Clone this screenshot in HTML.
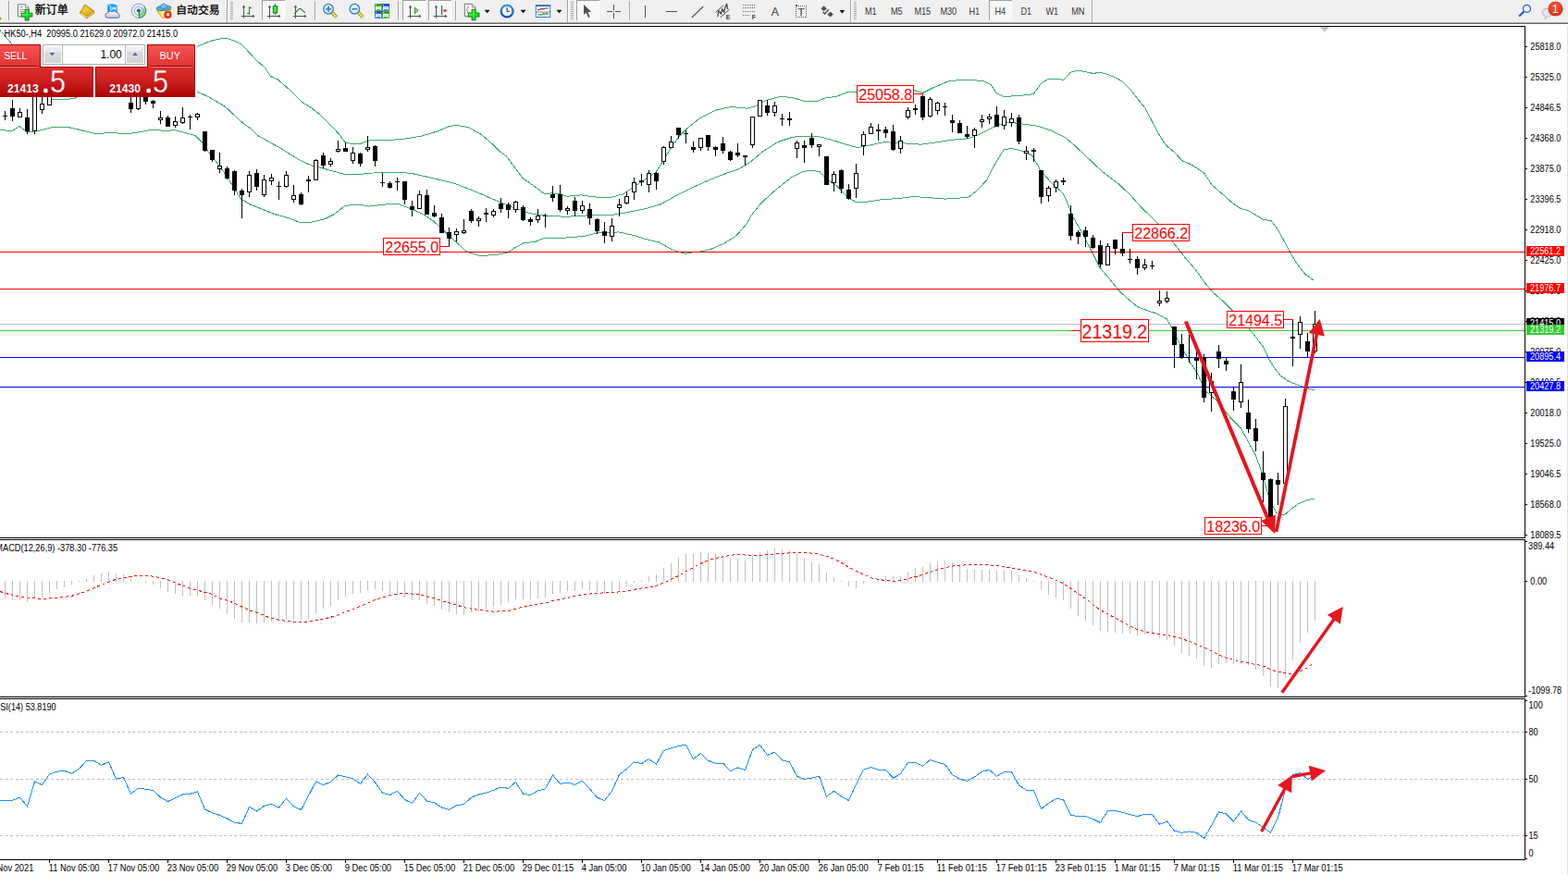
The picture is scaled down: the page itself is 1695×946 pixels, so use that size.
<!DOCTYPE html>
<html><head><meta charset="utf-8"><title>HK50 H4</title>
<style>
html,body{margin:0;padding:0;background:#fff;overflow:hidden}
body{width:1695px;height:946px;position:relative;font-family:"Liberation Sans",sans-serif}
svg{position:absolute;left:0;top:0;display:block}
svg text{font-family:"Liberation Sans",sans-serif}
</style></head><body>
<svg width="1695" height="946" viewBox="0 0 1695 946">
<rect x="0" y="0" width="1695" height="946" fill="#fff"/>
<!-- chart clip so nothing spills over the axis -->
<defs><clipPath id="cp"><rect x="0" y="29" width="1648" height="900"/></clipPath></defs>
<g clip-path="url(#cp)">
<polyline points="0.0,32.6 11.0,45.3 14.0,50.0" fill="none" stroke="#3aab70" stroke-width="1.0" shape-rendering="crispEdges"/>
<polyline points="213.3,50.3 225.4,45.2 235.5,42.3 244.4,41.2 253.3,44.0 260.9,47.8 271.0,58.5 276.1,64.2 286.2,73.1 292.6,82.6 300.2,85.8 311.6,95.9 326.8,110.5 337.0,116.9 345.8,123.9 358.5,136.5 366.2,144.6 373.1,153.8 380.0,155.5 390.0,155.2 400.2,151.6 432.3,150.9 456.0,147.0 473.0,142.0 484.7,136.9 493.2,135.2 506.7,137.8 520.3,145.4 533.8,157.2 541.0,164.5 546.8,168.3 555.2,179.3 565.4,192.9 578.9,202.2 589.0,209.8 595.8,208.9 604.3,209.4 612.7,212.3 627.9,210.9 644.8,213.1 661.7,213.1 673.6,209.8 683.7,203.0 698.9,192.9 709.1,186.1 717.5,172.6 726.0,159.0 734.5,147.2 742.9,138.7 756.4,127.8 773.3,119.3 790.3,115.4 807.2,117.1 816.8,114.8 826.9,108.9 842.1,104.7 855.7,105.2 869.2,109.4 884.4,109.2 892.9,105.5 903.0,104.7 916.5,99.6 926.7,99.1 989.2,97.9 997.7,100.4 1009.5,94.5 1026.4,87.4 1046.7,86.1 1063.6,87.8 1071.0,91.5 1076.8,100.3 1085.2,104.5 1100.0,103.6 1112.4,102.3 1117.6,101.1 1125.7,90.0 1133.3,85.4 1144.7,85.4 1149.5,86.5 1157.6,78.1 1164.7,76.4 1170.4,77.1 1181.8,79.5 1188.5,78.3 1196.1,80.0 1204.7,83.3 1212.3,87.6 1222.7,97.6 1230.4,107.6 1238.0,117.1 1246.5,133.3 1254.6,148.5 1261.1,157.8 1269.5,164.5 1278.0,173.8 1288.1,178.1 1301.6,186.9 1310.1,200.1 1321.8,210.0 1331.1,218.5 1341.2,225.6 1349.7,227.8 1364.9,237.1 1374.2,238.7 1381.8,248.9 1393.6,270.9 1400.4,282.7 1410.5,296.2 1420.0,303.0" fill="none" stroke="#3aab70" stroke-width="1.0" shape-rendering="crispEdges"/>
<polyline points="52.0,103.0 55.5,107.6 70.0,107.3 81.0,106.6 84.0,103.5" fill="none" stroke="#3aab70" stroke-width="1.0" shape-rendering="crispEdges"/>
<polyline points="213.3,99.1 225.4,104.8 235.5,110.5 244.4,116.2 253.3,124.5 262.1,132.7 271.0,139.1 278.6,146.5 303.8,160.6 325.8,174.1 337.6,179.2 349.5,182.2 371.5,188.1 388.4,188.5 413.7,186.0 432.3,186.0 447.5,188.0 473.0,193.9 489.8,197.8 506.7,204.2 523.6,211.3 540.5,218.6 556.9,225.0 573.8,230.9 590.7,233.1 611.0,234.3 627.9,233.4 644.8,232.1 663.4,232.1 680.3,229.2 697.3,225.8 714.2,220.8 731.1,211.5 748.0,203.0 764.9,195.4 781.8,188.6 798.7,182.7 810.6,175.6 823.5,164.7 840.4,153.7 857.3,148.1 874.3,147.3 887.8,148.1 901.3,152.0 914.8,156.2 926.7,159.6 938.5,157.4 955.4,153.7 972.3,154.5 996.0,156.2 1012.9,153.7 1029.8,151.2 1046.7,149.8 1056.9,146.1 1070.0,139.5 1080.1,135.0 1090.3,132.1 1103.8,133.8 1122.4,136.3 1137.6,141.7 1151.2,148.5 1161.3,156.9 1176.5,171.3 1191.7,185.7 1208.7,198.4 1222.0,211.0 1234.7,225.2 1251.6,241.3 1268.5,262.4 1280.3,277.6 1292.2,291.2 1302.3,305.5 1310.8,315.7 1322.5,326.0 1331.5,335.0 1350.5,355.8 1358.5,365.6 1366.7,377.0 1371.7,388.4 1378.1,398.5 1384.4,406.2 1393.3,412.5 1404.7,416.9 1414.8,420.1 1420.6,421.6" fill="none" stroke="#3aab70" stroke-width="1.0" shape-rendering="crispEdges"/>
<polyline points="0.0,140.8 13.5,141.3 21.0,136.6 28.7,142.5 40.6,141.7 57.5,137.4 72.7,137.4 84.5,140.0 101.5,144.2 118.4,143.9 142.0,144.2 152.2,142.5 165.7,140.0 179.2,141.7 188.5,140.5 199.5,143.4 211.4,146.7 218.1,153.5 224.9,163.7 233.3,174.5 243.5,188.0 251.9,201.6 260.4,215.1 270.5,221.0 285.2,226.9 297.0,231.6 312.3,235.8 324.1,240.4 337.6,240.0 351.2,236.7 361.3,231.6 373.1,222.3 388.4,221.1 398.5,223.1 417.1,221.0 430.6,220.6 444.2,225.7 456.0,230.8 467.8,238.4 478.0,247.7 489.8,258.7 504.5,272.1 517.8,276.2 534.7,275.9 548.9,273.0 553.5,269.8 565.4,263.0 578.9,261.3 589.0,257.1 611.0,257.1 631.3,255.4 644.8,252.0 658.4,251.7 668.5,250.9 685.4,254.6 698.9,258.8 712.2,261.9 725.4,269.3 733.0,272.1 741.5,274.4 746.2,273.2 759.4,271.7 768.8,269.3 782.0,263.4 791.5,257.9 797.0,253.7 807.2,241.9 812.0,233.0 820.0,223.0 823.5,218.8 840.4,203.6 855.7,191.7 867.5,185.8 877.6,184.1 886.1,185.8 894.5,194.3 904.7,201.0 914.8,212.0 925.0,218.5 938.5,218.0 955.4,215.4 972.3,214.6 987.5,212.4 1004.5,213.7 1021.4,215.1 1046.7,213.4 1056.9,205.3 1067.0,194.3 1072.0,184.0 1078.5,172.2 1085.2,162.0 1093.7,160.3 1103.8,162.9 1115.7,167.9 1124.1,183.1 1132.6,193.3 1141.0,201.7 1148.6,208.5 1153.0,217.0 1159.5,234.0 1168.7,249.7 1178.9,269.2 1189.0,289.5 1199.2,301.3 1209.3,314.0 1219.5,323.3 1229.6,331.7 1239.8,335.5 1249.9,338.8 1261.2,344.9 1266.6,353.6 1272.1,365.6 1280.4,380.8 1288.0,394.1 1294.4,403.6 1299.5,415.0 1304.6,424.0 1313.4,431.5 1318.0,436.4 1330.7,452.3 1341.5,463.0 1349.7,478.3 1357.4,492.2 1362.4,506.3 1367.5,522.8 1370.7,534.5 1376.4,548.3 1380.2,554.7 1384.0,557.2 1389.0,556.2 1396.7,549.6 1404.9,543.9 1413.1,540.7 1420.8,539.1" fill="none" stroke="#3aab70" stroke-width="1.0" shape-rendering="crispEdges"/>
<g shape-rendering="crispEdges">
<rect x="0" y="272" width="1648" height="1" fill="#ff0000"/>
<rect x="0" y="312" width="1648" height="1" fill="#ff0000"/>
<rect x="0" y="350" width="1648" height="1" fill="#c0c0c0"/>
<rect x="0" y="357" width="1648" height="1" fill="#32cd32"/>
<rect x="0" y="386" width="1648" height="1" fill="#0000ff"/>
<rect x="0" y="418" width="1648" height="1" fill="#0000ff"/>
<rect x="5" y="120" width="1" height="10" fill="#000"/>
<rect x="3" y="125" width="5" height="1" fill="#000"/>
<rect x="13" y="108" width="1" height="23" fill="#000"/>
<rect x="11" y="117" width="5" height="9" fill="#000"/>
<rect x="21" y="117" width="1" height="10" fill="#000"/>
<rect x="19" y="121" width="5" height="6" fill="#000"/>
<rect x="20" y="122" width="3" height="4" fill="#fff"/>
<rect x="29" y="118" width="1" height="27" fill="#000"/>
<rect x="27" y="127" width="5" height="15" fill="#000"/>
<rect x="37" y="95" width="1" height="50" fill="#000"/>
<rect x="35" y="95" width="5" height="47" fill="#000"/>
<rect x="36" y="96" width="3" height="45" fill="#fff"/>
<rect x="45" y="100" width="1" height="23" fill="#000"/>
<rect x="43" y="112" width="5" height="7" fill="#000"/>
<rect x="44" y="113" width="3" height="5" fill="#fff"/>
<rect x="53" y="95" width="1" height="19" fill="#000"/>
<rect x="51" y="95" width="5" height="19" fill="#000"/>
<rect x="52" y="96" width="3" height="17" fill="#fff"/>
<rect x="141" y="100" width="1" height="22" fill="#000"/>
<rect x="139" y="111" width="5" height="7" fill="#000"/>
<rect x="149" y="100" width="1" height="19" fill="#000"/>
<rect x="147" y="100" width="5" height="18" fill="#000"/>
<rect x="148" y="101" width="3" height="16" fill="#fff"/>
<rect x="157" y="100" width="1" height="13" fill="#000"/>
<rect x="155" y="100" width="5" height="10" fill="#000"/>
<rect x="165" y="108" width="1" height="9" fill="#000"/>
<rect x="163" y="109" width="5" height="3" fill="#000"/>
<rect x="173" y="120" width="1" height="14" fill="#000"/>
<rect x="171" y="127" width="5" height="3" fill="#000"/>
<rect x="172" y="128" width="3" height="1" fill="#fff"/>
<rect x="181" y="125" width="1" height="12" fill="#000"/>
<rect x="179" y="127" width="5" height="10" fill="#000"/>
<rect x="189" y="126" width="1" height="12" fill="#000"/>
<rect x="187" y="131" width="5" height="5" fill="#000"/>
<rect x="188" y="132" width="3" height="3" fill="#fff"/>
<rect x="197" y="116" width="1" height="18" fill="#000"/>
<rect x="195" y="127" width="5" height="6" fill="#000"/>
<rect x="196" y="128" width="3" height="4" fill="#fff"/>
<rect x="205" y="124" width="1" height="16" fill="#000"/>
<rect x="203" y="126" width="5" height="1" fill="#000"/>
<rect x="213" y="122" width="1" height="8" fill="#000"/>
<rect x="211" y="123" width="5" height="4" fill="#000"/>
<rect x="212" y="124" width="3" height="2" fill="#fff"/>
<rect x="221" y="142" width="1" height="22" fill="#000"/>
<rect x="219" y="142" width="5" height="21" fill="#000"/>
<rect x="229" y="162" width="1" height="13" fill="#000"/>
<rect x="227" y="162" width="5" height="11" fill="#000"/>
<rect x="237" y="165" width="1" height="22" fill="#000"/>
<rect x="235" y="179" width="5" height="4" fill="#000"/>
<rect x="236" y="180" width="3" height="2" fill="#fff"/>
<rect x="245" y="180" width="1" height="14" fill="#000"/>
<rect x="243" y="182" width="5" height="11" fill="#000"/>
<rect x="253" y="184" width="1" height="27" fill="#000"/>
<rect x="251" y="185" width="5" height="21" fill="#000"/>
<rect x="261" y="204" width="1" height="32" fill="#000"/>
<rect x="259" y="206" width="5" height="5" fill="#000"/>
<rect x="269" y="185" width="1" height="28" fill="#000"/>
<rect x="267" y="189" width="5" height="19" fill="#000"/>
<rect x="268" y="190" width="3" height="17" fill="#fff"/>
<rect x="277" y="183" width="1" height="23" fill="#000"/>
<rect x="275" y="187" width="5" height="15" fill="#000"/>
<rect x="285" y="189" width="1" height="24" fill="#000"/>
<rect x="283" y="194" width="5" height="17" fill="#000"/>
<rect x="284" y="195" width="3" height="15" fill="#fff"/>
<rect x="293" y="188" width="1" height="12" fill="#000"/>
<rect x="291" y="192" width="5" height="4" fill="#000"/>
<rect x="292" y="193" width="3" height="2" fill="#fff"/>
<rect x="301" y="196" width="1" height="20" fill="#000"/>
<rect x="299" y="201" width="5" height="1" fill="#000"/>
<rect x="309" y="185" width="1" height="18" fill="#000"/>
<rect x="307" y="189" width="5" height="13" fill="#000"/>
<rect x="308" y="190" width="3" height="11" fill="#fff"/>
<rect x="317" y="200" width="1" height="19" fill="#000"/>
<rect x="315" y="211" width="5" height="5" fill="#000"/>
<rect x="316" y="212" width="3" height="3" fill="#fff"/>
<rect x="325" y="208" width="1" height="14" fill="#000"/>
<rect x="323" y="210" width="5" height="11" fill="#000"/>
<rect x="333" y="190" width="1" height="18" fill="#000"/>
<rect x="331" y="194" width="5" height="2" fill="#000"/>
<rect x="341" y="172" width="1" height="23" fill="#000"/>
<rect x="339" y="173" width="5" height="22" fill="#000"/>
<rect x="340" y="174" width="3" height="20" fill="#fff"/>
<rect x="349" y="165" width="1" height="17" fill="#000"/>
<rect x="347" y="168" width="5" height="11" fill="#000"/>
<rect x="357" y="171" width="1" height="9" fill="#000"/>
<rect x="355" y="174" width="5" height="4" fill="#000"/>
<rect x="356" y="175" width="3" height="2" fill="#fff"/>
<rect x="365" y="152" width="1" height="13" fill="#000"/>
<rect x="363" y="161" width="5" height="3" fill="#000"/>
<rect x="364" y="162" width="3" height="1" fill="#fff"/>
<rect x="373" y="154" width="1" height="10" fill="#000"/>
<rect x="371" y="160" width="5" height="4" fill="#000"/>
<rect x="381" y="159" width="1" height="18" fill="#000"/>
<rect x="379" y="165" width="5" height="9" fill="#000"/>
<rect x="380" y="166" width="3" height="7" fill="#fff"/>
<rect x="389" y="165" width="1" height="15" fill="#000"/>
<rect x="387" y="166" width="5" height="11" fill="#000"/>
<rect x="397" y="147" width="1" height="17" fill="#000"/>
<rect x="395" y="159" width="5" height="3" fill="#000"/>
<rect x="396" y="160" width="3" height="1" fill="#fff"/>
<rect x="405" y="157" width="1" height="23" fill="#000"/>
<rect x="403" y="158" width="5" height="16" fill="#000"/>
<rect x="413" y="187" width="1" height="15" fill="#000"/>
<rect x="411" y="197" width="5" height="1" fill="#000"/>
<rect x="421" y="196" width="1" height="8" fill="#000"/>
<rect x="419" y="198" width="5" height="5" fill="#000"/>
<rect x="429" y="192" width="1" height="14" fill="#000"/>
<rect x="427" y="196" width="5" height="1" fill="#000"/>
<rect x="437" y="196" width="1" height="25" fill="#000"/>
<rect x="435" y="196" width="5" height="20" fill="#000"/>
<rect x="445" y="217" width="1" height="17" fill="#000"/>
<rect x="443" y="223" width="5" height="4" fill="#000"/>
<rect x="453" y="206" width="1" height="20" fill="#000"/>
<rect x="451" y="210" width="5" height="16" fill="#000"/>
<rect x="452" y="211" width="3" height="14" fill="#fff"/>
<rect x="461" y="205" width="1" height="27" fill="#000"/>
<rect x="459" y="211" width="5" height="21" fill="#000"/>
<rect x="469" y="222" width="1" height="13" fill="#000"/>
<rect x="467" y="230" width="5" height="4" fill="#000"/>
<rect x="477" y="231" width="1" height="21" fill="#000"/>
<rect x="475" y="235" width="5" height="17" fill="#000"/>
<rect x="485" y="246" width="1" height="20" fill="#000"/>
<rect x="483" y="251" width="5" height="7" fill="#000"/>
<rect x="493" y="247" width="1" height="14" fill="#000"/>
<rect x="491" y="250" width="5" height="4" fill="#000"/>
<rect x="492" y="251" width="3" height="2" fill="#fff"/>
<rect x="501" y="237" width="1" height="16" fill="#000"/>
<rect x="499" y="249" width="5" height="3" fill="#000"/>
<rect x="500" y="250" width="3" height="1" fill="#fff"/>
<rect x="509" y="226" width="1" height="15" fill="#000"/>
<rect x="507" y="228" width="5" height="11" fill="#000"/>
<rect x="517" y="234" width="1" height="11" fill="#000"/>
<rect x="515" y="236" width="5" height="3" fill="#000"/>
<rect x="516" y="237" width="3" height="1" fill="#fff"/>
<rect x="525" y="225" width="1" height="15" fill="#000"/>
<rect x="523" y="230" width="5" height="2" fill="#000"/>
<rect x="533" y="226" width="1" height="9" fill="#000"/>
<rect x="531" y="228" width="5" height="5" fill="#000"/>
<rect x="532" y="229" width="3" height="3" fill="#fff"/>
<rect x="541" y="214" width="1" height="16" fill="#000"/>
<rect x="539" y="220" width="5" height="6" fill="#000"/>
<rect x="549" y="219" width="1" height="17" fill="#000"/>
<rect x="547" y="221" width="5" height="6" fill="#000"/>
<rect x="557" y="217" width="1" height="13" fill="#000"/>
<rect x="555" y="218" width="5" height="9" fill="#000"/>
<rect x="556" y="219" width="3" height="7" fill="#fff"/>
<rect x="565" y="222" width="1" height="17" fill="#000"/>
<rect x="563" y="224" width="5" height="14" fill="#000"/>
<rect x="573" y="235" width="1" height="9" fill="#000"/>
<rect x="571" y="237" width="5" height="3" fill="#000"/>
<rect x="581" y="226" width="1" height="15" fill="#000"/>
<rect x="579" y="233" width="5" height="5" fill="#000"/>
<rect x="580" y="234" width="3" height="3" fill="#fff"/>
<rect x="589" y="231" width="1" height="15" fill="#000"/>
<rect x="587" y="233" width="5" height="1" fill="#000"/>
<rect x="597" y="201" width="1" height="17" fill="#000"/>
<rect x="595" y="210" width="5" height="4" fill="#000"/>
<rect x="605" y="200" width="1" height="29" fill="#000"/>
<rect x="603" y="210" width="5" height="17" fill="#000"/>
<rect x="613" y="223" width="1" height="9" fill="#000"/>
<rect x="611" y="225" width="5" height="3" fill="#000"/>
<rect x="612" y="226" width="3" height="1" fill="#fff"/>
<rect x="621" y="213" width="1" height="21" fill="#000"/>
<rect x="619" y="217" width="5" height="11" fill="#000"/>
<rect x="629" y="217" width="1" height="14" fill="#000"/>
<rect x="627" y="222" width="5" height="6" fill="#000"/>
<rect x="628" y="223" width="3" height="4" fill="#fff"/>
<rect x="637" y="220" width="1" height="23" fill="#000"/>
<rect x="635" y="226" width="5" height="10" fill="#000"/>
<rect x="645" y="236" width="1" height="17" fill="#000"/>
<rect x="643" y="237" width="5" height="13" fill="#000"/>
<rect x="653" y="240" width="1" height="23" fill="#000"/>
<rect x="651" y="250" width="5" height="5" fill="#000"/>
<rect x="661" y="236" width="1" height="25" fill="#000"/>
<rect x="659" y="244" width="5" height="12" fill="#000"/>
<rect x="660" y="245" width="3" height="10" fill="#fff"/>
<rect x="669" y="215" width="1" height="19" fill="#000"/>
<rect x="667" y="221" width="5" height="4" fill="#000"/>
<rect x="668" y="222" width="3" height="2" fill="#fff"/>
<rect x="677" y="207" width="1" height="14" fill="#000"/>
<rect x="675" y="212" width="5" height="8" fill="#000"/>
<rect x="676" y="213" width="3" height="6" fill="#fff"/>
<rect x="685" y="192" width="1" height="24" fill="#000"/>
<rect x="683" y="197" width="5" height="11" fill="#000"/>
<rect x="684" y="198" width="3" height="9" fill="#fff"/>
<rect x="693" y="188" width="1" height="13" fill="#000"/>
<rect x="691" y="195" width="5" height="2" fill="#000"/>
<rect x="701" y="184" width="1" height="24" fill="#000"/>
<rect x="699" y="187" width="5" height="13" fill="#000"/>
<rect x="700" y="188" width="3" height="11" fill="#fff"/>
<rect x="709" y="186" width="1" height="19" fill="#000"/>
<rect x="707" y="187" width="5" height="9" fill="#000"/>
<rect x="717" y="158" width="1" height="20" fill="#000"/>
<rect x="715" y="159" width="5" height="16" fill="#000"/>
<rect x="716" y="160" width="3" height="14" fill="#fff"/>
<rect x="725" y="147" width="1" height="13" fill="#000"/>
<rect x="723" y="153" width="5" height="7" fill="#000"/>
<rect x="724" y="154" width="3" height="5" fill="#fff"/>
<rect x="733" y="138" width="1" height="12" fill="#000"/>
<rect x="731" y="138" width="5" height="8" fill="#000"/>
<rect x="741" y="141" width="1" height="14" fill="#000"/>
<rect x="739" y="144" width="5" height="1" fill="#000"/>
<rect x="749" y="153" width="1" height="12" fill="#000"/>
<rect x="747" y="159" width="5" height="3" fill="#000"/>
<rect x="757" y="149" width="1" height="14" fill="#000"/>
<rect x="755" y="149" width="5" height="11" fill="#000"/>
<rect x="756" y="150" width="3" height="9" fill="#fff"/>
<rect x="765" y="146" width="1" height="17" fill="#000"/>
<rect x="763" y="146" width="5" height="13" fill="#000"/>
<rect x="773" y="158" width="1" height="11" fill="#000"/>
<rect x="771" y="159" width="5" height="3" fill="#000"/>
<rect x="781" y="148" width="1" height="18" fill="#000"/>
<rect x="779" y="155" width="5" height="8" fill="#000"/>
<rect x="789" y="163" width="1" height="11" fill="#000"/>
<rect x="787" y="164" width="5" height="9" fill="#000"/>
<rect x="797" y="155" width="1" height="15" fill="#000"/>
<rect x="795" y="165" width="5" height="3" fill="#000"/>
<rect x="805" y="168" width="1" height="11" fill="#000"/>
<rect x="803" y="168" width="5" height="2" fill="#000"/>
<rect x="813" y="126" width="1" height="34" fill="#000"/>
<rect x="811" y="126" width="5" height="31" fill="#000"/>
<rect x="812" y="127" width="3" height="29" fill="#fff"/>
<rect x="821" y="108" width="1" height="18" fill="#000"/>
<rect x="819" y="108" width="5" height="18" fill="#000"/>
<rect x="820" y="109" width="3" height="16" fill="#fff"/>
<rect x="829" y="108" width="1" height="17" fill="#000"/>
<rect x="827" y="114" width="5" height="8" fill="#000"/>
<rect x="837" y="110" width="1" height="16" fill="#000"/>
<rect x="835" y="114" width="5" height="8" fill="#000"/>
<rect x="836" y="115" width="3" height="6" fill="#fff"/>
<rect x="845" y="123" width="1" height="13" fill="#000"/>
<rect x="843" y="128" width="5" height="1" fill="#000"/>
<rect x="853" y="121" width="1" height="15" fill="#000"/>
<rect x="851" y="128" width="5" height="2" fill="#000"/>
<rect x="861" y="152" width="1" height="19" fill="#000"/>
<rect x="859" y="154" width="5" height="7" fill="#000"/>
<rect x="860" y="155" width="3" height="5" fill="#fff"/>
<rect x="869" y="152" width="1" height="24" fill="#000"/>
<rect x="867" y="157" width="5" height="3" fill="#000"/>
<rect x="877" y="144" width="1" height="16" fill="#000"/>
<rect x="875" y="149" width="5" height="8" fill="#000"/>
<rect x="885" y="156" width="1" height="13" fill="#000"/>
<rect x="883" y="156" width="5" height="3" fill="#000"/>
<rect x="884" y="157" width="3" height="1" fill="#fff"/>
<rect x="893" y="169" width="1" height="31" fill="#000"/>
<rect x="891" y="169" width="5" height="31" fill="#000"/>
<rect x="901" y="185" width="1" height="22" fill="#000"/>
<rect x="899" y="188" width="5" height="10" fill="#000"/>
<rect x="900" y="189" width="3" height="8" fill="#fff"/>
<rect x="909" y="183" width="1" height="26" fill="#000"/>
<rect x="907" y="184" width="5" height="20" fill="#000"/>
<rect x="917" y="199" width="1" height="17" fill="#000"/>
<rect x="915" y="205" width="5" height="10" fill="#000"/>
<rect x="925" y="177" width="1" height="37" fill="#000"/>
<rect x="923" y="187" width="5" height="17" fill="#000"/>
<rect x="924" y="188" width="3" height="15" fill="#fff"/>
<rect x="933" y="142" width="1" height="26" fill="#000"/>
<rect x="931" y="145" width="5" height="13" fill="#000"/>
<rect x="932" y="146" width="3" height="11" fill="#fff"/>
<rect x="941" y="133" width="1" height="12" fill="#000"/>
<rect x="939" y="137" width="5" height="8" fill="#000"/>
<rect x="940" y="138" width="3" height="6" fill="#fff"/>
<rect x="949" y="134" width="1" height="18" fill="#000"/>
<rect x="947" y="140" width="5" height="2" fill="#000"/>
<rect x="957" y="137" width="1" height="12" fill="#000"/>
<rect x="955" y="140" width="5" height="4" fill="#000"/>
<rect x="965" y="135" width="1" height="28" fill="#000"/>
<rect x="963" y="142" width="5" height="20" fill="#000"/>
<rect x="973" y="147" width="1" height="19" fill="#000"/>
<rect x="971" y="152" width="5" height="9" fill="#000"/>
<rect x="972" y="153" width="3" height="7" fill="#fff"/>
<rect x="981" y="116" width="1" height="13" fill="#000"/>
<rect x="979" y="119" width="5" height="8" fill="#000"/>
<rect x="980" y="120" width="3" height="6" fill="#fff"/>
<rect x="989" y="113" width="1" height="11" fill="#000"/>
<rect x="987" y="117" width="5" height="2" fill="#000"/>
<rect x="997" y="101" width="1" height="29" fill="#000"/>
<rect x="995" y="104" width="5" height="23" fill="#000"/>
<rect x="1005" y="105" width="1" height="22" fill="#000"/>
<rect x="1003" y="107" width="5" height="19" fill="#000"/>
<rect x="1004" y="108" width="3" height="17" fill="#fff"/>
<rect x="1013" y="110" width="1" height="14" fill="#000"/>
<rect x="1011" y="111" width="5" height="9" fill="#000"/>
<rect x="1012" y="112" width="3" height="7" fill="#fff"/>
<rect x="1021" y="111" width="1" height="14" fill="#000"/>
<rect x="1019" y="115" width="5" height="1" fill="#000"/>
<rect x="1029" y="124" width="1" height="19" fill="#000"/>
<rect x="1027" y="130" width="5" height="3" fill="#000"/>
<rect x="1037" y="130" width="1" height="14" fill="#000"/>
<rect x="1035" y="133" width="5" height="11" fill="#000"/>
<rect x="1045" y="136" width="1" height="14" fill="#000"/>
<rect x="1043" y="145" width="5" height="3" fill="#000"/>
<rect x="1053" y="138" width="1" height="22" fill="#000"/>
<rect x="1051" y="140" width="5" height="7" fill="#000"/>
<rect x="1052" y="141" width="3" height="5" fill="#fff"/>
<rect x="1061" y="124" width="1" height="14" fill="#000"/>
<rect x="1059" y="129" width="5" height="3" fill="#000"/>
<rect x="1060" y="130" width="3" height="1" fill="#fff"/>
<rect x="1069" y="123" width="1" height="11" fill="#000"/>
<rect x="1067" y="126" width="5" height="3" fill="#000"/>
<rect x="1068" y="127" width="3" height="1" fill="#fff"/>
<rect x="1077" y="115" width="1" height="22" fill="#000"/>
<rect x="1075" y="124" width="5" height="13" fill="#000"/>
<rect x="1085" y="119" width="1" height="21" fill="#000"/>
<rect x="1083" y="126" width="5" height="10" fill="#000"/>
<rect x="1084" y="127" width="3" height="8" fill="#fff"/>
<rect x="1093" y="122" width="1" height="15" fill="#000"/>
<rect x="1091" y="128" width="5" height="5" fill="#000"/>
<rect x="1092" y="129" width="3" height="3" fill="#fff"/>
<rect x="1101" y="124" width="1" height="32" fill="#000"/>
<rect x="1099" y="127" width="5" height="26" fill="#000"/>
<rect x="1109" y="158" width="1" height="15" fill="#000"/>
<rect x="1107" y="163" width="5" height="3" fill="#000"/>
<rect x="1108" y="164" width="3" height="1" fill="#fff"/>
<rect x="1117" y="160" width="1" height="15" fill="#000"/>
<rect x="1115" y="162" width="5" height="2" fill="#000"/>
<rect x="1125" y="184" width="1" height="36" fill="#000"/>
<rect x="1123" y="184" width="5" height="29" fill="#000"/>
<rect x="1133" y="201" width="1" height="17" fill="#000"/>
<rect x="1131" y="203" width="5" height="9" fill="#000"/>
<rect x="1132" y="204" width="3" height="7" fill="#fff"/>
<rect x="1141" y="194" width="1" height="14" fill="#000"/>
<rect x="1139" y="196" width="5" height="7" fill="#000"/>
<rect x="1140" y="197" width="3" height="5" fill="#fff"/>
<rect x="1149" y="192" width="1" height="8" fill="#000"/>
<rect x="1147" y="195" width="5" height="2" fill="#000"/>
<rect x="1157" y="222" width="1" height="38" fill="#000"/>
<rect x="1155" y="231" width="5" height="24" fill="#000"/>
<rect x="1165" y="249" width="1" height="15" fill="#000"/>
<rect x="1163" y="251" width="5" height="5" fill="#000"/>
<rect x="1173" y="245" width="1" height="22" fill="#000"/>
<rect x="1171" y="249" width="5" height="7" fill="#000"/>
<rect x="1181" y="254" width="1" height="15" fill="#000"/>
<rect x="1179" y="257" width="5" height="11" fill="#000"/>
<rect x="1189" y="260" width="1" height="29" fill="#000"/>
<rect x="1187" y="265" width="5" height="21" fill="#000"/>
<rect x="1197" y="263" width="1" height="24" fill="#000"/>
<rect x="1195" y="266" width="5" height="21" fill="#000"/>
<rect x="1196" y="267" width="3" height="19" fill="#fff"/>
<rect x="1205" y="259" width="1" height="16" fill="#000"/>
<rect x="1203" y="259" width="5" height="10" fill="#000"/>
<rect x="1213" y="252" width="1" height="25" fill="#000"/>
<rect x="1211" y="269" width="5" height="5" fill="#000"/>
<rect x="1221" y="269" width="1" height="16" fill="#000"/>
<rect x="1219" y="280" width="5" height="1" fill="#000"/>
<rect x="1229" y="277" width="1" height="20" fill="#000"/>
<rect x="1227" y="280" width="5" height="10" fill="#000"/>
<rect x="1237" y="280" width="1" height="12" fill="#000"/>
<rect x="1235" y="286" width="5" height="4" fill="#000"/>
<rect x="1236" y="287" width="3" height="2" fill="#fff"/>
<rect x="1245" y="282" width="1" height="9" fill="#000"/>
<rect x="1243" y="287" width="5" height="1" fill="#000"/>
<rect x="1253" y="314" width="1" height="17" fill="#000"/>
<rect x="1251" y="325" width="5" height="3" fill="#000"/>
<rect x="1252" y="326" width="3" height="1" fill="#fff"/>
<rect x="1261" y="315" width="1" height="13" fill="#000"/>
<rect x="1259" y="322" width="5" height="4" fill="#000"/>
<rect x="1260" y="323" width="3" height="2" fill="#fff"/>
<rect x="1269" y="353" width="1" height="45" fill="#000"/>
<rect x="1267" y="353" width="5" height="20" fill="#000"/>
<rect x="1277" y="361" width="1" height="27" fill="#000"/>
<rect x="1275" y="372" width="5" height="15" fill="#000"/>
<rect x="1285" y="362" width="1" height="30" fill="#000"/>
<rect x="1283" y="386" width="5" height="1" fill="#000"/>
<rect x="1293" y="376" width="1" height="34" fill="#000"/>
<rect x="1291" y="387" width="5" height="3" fill="#000"/>
<rect x="1301" y="383" width="1" height="52" fill="#000"/>
<rect x="1299" y="386" width="5" height="44" fill="#000"/>
<rect x="1309" y="403" width="1" height="42" fill="#000"/>
<rect x="1307" y="412" width="5" height="13" fill="#000"/>
<rect x="1308" y="413" width="3" height="11" fill="#fff"/>
<rect x="1317" y="373" width="1" height="25" fill="#000"/>
<rect x="1315" y="380" width="5" height="8" fill="#000"/>
<rect x="1325" y="387" width="1" height="14" fill="#000"/>
<rect x="1323" y="390" width="5" height="4" fill="#000"/>
<rect x="1333" y="419" width="1" height="25" fill="#000"/>
<rect x="1331" y="423" width="5" height="9" fill="#000"/>
<rect x="1341" y="394" width="1" height="47" fill="#000"/>
<rect x="1339" y="413" width="5" height="22" fill="#000"/>
<rect x="1340" y="414" width="3" height="20" fill="#fff"/>
<rect x="1349" y="432" width="1" height="36" fill="#000"/>
<rect x="1347" y="446" width="5" height="18" fill="#000"/>
<rect x="1357" y="453" width="1" height="35" fill="#000"/>
<rect x="1355" y="463" width="5" height="14" fill="#000"/>
<rect x="1365" y="488" width="1" height="55" fill="#000"/>
<rect x="1363" y="511" width="5" height="8" fill="#000"/>
<rect x="1373" y="517" width="1" height="55" fill="#000"/>
<rect x="1371" y="518" width="5" height="41" fill="#000"/>
<rect x="1381" y="511" width="1" height="35" fill="#000"/>
<rect x="1379" y="519" width="5" height="5" fill="#000"/>
<rect x="1389" y="431" width="1" height="92" fill="#000"/>
<rect x="1387" y="439" width="5" height="84" fill="#000"/>
<rect x="1388" y="440" width="3" height="82" fill="#fff"/>
<rect x="1397" y="345" width="1" height="51" fill="#000"/>
<rect x="1395" y="364" width="5" height="2" fill="#000"/>
<rect x="1405" y="342" width="1" height="35" fill="#000"/>
<rect x="1403" y="348" width="5" height="14" fill="#000"/>
<rect x="1404" y="349" width="3" height="12" fill="#fff"/>
<rect x="1413" y="360" width="1" height="26" fill="#000"/>
<rect x="1411" y="369" width="5" height="11" fill="#000"/>
<rect x="1421" y="336" width="1" height="46" fill="#000"/>
<rect x="1419" y="350" width="5" height="30" fill="#000"/>
<rect x="1420" y="351" width="3" height="28" fill="#fff"/>
</g>
<g shape-rendering="crispEdges">
<rect x="5" y="628" width="1" height="19" fill="#c0c0c0"/>
<rect x="13" y="628" width="1" height="21" fill="#c0c0c0"/>
<rect x="21" y="628" width="1" height="21" fill="#c0c0c0"/>
<rect x="29" y="628" width="1" height="23" fill="#c0c0c0"/>
<rect x="37" y="628" width="1" height="19" fill="#c0c0c0"/>
<rect x="45" y="628" width="1" height="18" fill="#c0c0c0"/>
<rect x="53" y="628" width="1" height="14" fill="#c0c0c0"/>
<rect x="61" y="628" width="1" height="9" fill="#c0c0c0"/>
<rect x="69" y="628" width="1" height="7" fill="#c0c0c0"/>
<rect x="77" y="628" width="1" height="4" fill="#c0c0c0"/>
<rect x="85" y="628" width="1" height="1" fill="#c0c0c0"/>
<rect x="93" y="626" width="1" height="3" fill="#c0c0c0"/>
<rect x="101" y="622" width="1" height="7" fill="#c0c0c0"/>
<rect x="109" y="620" width="1" height="9" fill="#c0c0c0"/>
<rect x="117" y="618" width="1" height="11" fill="#c0c0c0"/>
<rect x="125" y="620" width="1" height="9" fill="#c0c0c0"/>
<rect x="133" y="621" width="1" height="8" fill="#c0c0c0"/>
<rect x="141" y="626" width="1" height="3" fill="#c0c0c0"/>
<rect x="149" y="628" width="1" height="1" fill="#c0c0c0"/>
<rect x="157" y="628" width="1" height="2" fill="#c0c0c0"/>
<rect x="165" y="628" width="1" height="4" fill="#c0c0c0"/>
<rect x="173" y="628" width="1" height="8" fill="#c0c0c0"/>
<rect x="181" y="628" width="1" height="12" fill="#c0c0c0"/>
<rect x="189" y="628" width="1" height="14" fill="#c0c0c0"/>
<rect x="197" y="628" width="1" height="16" fill="#c0c0c0"/>
<rect x="205" y="628" width="1" height="16" fill="#c0c0c0"/>
<rect x="213" y="628" width="1" height="16" fill="#c0c0c0"/>
<rect x="221" y="628" width="1" height="21" fill="#c0c0c0"/>
<rect x="229" y="628" width="1" height="26" fill="#c0c0c0"/>
<rect x="237" y="628" width="1" height="30" fill="#c0c0c0"/>
<rect x="245" y="628" width="1" height="35" fill="#c0c0c0"/>
<rect x="253" y="628" width="1" height="41" fill="#c0c0c0"/>
<rect x="261" y="628" width="1" height="45" fill="#c0c0c0"/>
<rect x="269" y="628" width="1" height="45" fill="#c0c0c0"/>
<rect x="277" y="628" width="1" height="46" fill="#c0c0c0"/>
<rect x="285" y="628" width="1" height="45" fill="#c0c0c0"/>
<rect x="293" y="628" width="1" height="44" fill="#c0c0c0"/>
<rect x="301" y="628" width="1" height="44" fill="#c0c0c0"/>
<rect x="309" y="628" width="1" height="42" fill="#c0c0c0"/>
<rect x="317" y="628" width="1" height="42" fill="#c0c0c0"/>
<rect x="325" y="628" width="1" height="42" fill="#c0c0c0"/>
<rect x="333" y="628" width="1" height="41" fill="#c0c0c0"/>
<rect x="341" y="628" width="1" height="35" fill="#c0c0c0"/>
<rect x="349" y="628" width="1" height="30" fill="#c0c0c0"/>
<rect x="357" y="628" width="1" height="27" fill="#c0c0c0"/>
<rect x="365" y="628" width="1" height="21" fill="#c0c0c0"/>
<rect x="373" y="628" width="1" height="17" fill="#c0c0c0"/>
<rect x="381" y="628" width="1" height="14" fill="#c0c0c0"/>
<rect x="389" y="628" width="1" height="13" fill="#c0c0c0"/>
<rect x="397" y="628" width="1" height="10" fill="#c0c0c0"/>
<rect x="405" y="628" width="1" height="9" fill="#c0c0c0"/>
<rect x="413" y="628" width="1" height="11" fill="#c0c0c0"/>
<rect x="421" y="628" width="1" height="14" fill="#c0c0c0"/>
<rect x="429" y="628" width="1" height="15" fill="#c0c0c0"/>
<rect x="437" y="628" width="1" height="18" fill="#c0c0c0"/>
<rect x="445" y="628" width="1" height="21" fill="#c0c0c0"/>
<rect x="453" y="628" width="1" height="21" fill="#c0c0c0"/>
<rect x="461" y="628" width="1" height="25" fill="#c0c0c0"/>
<rect x="469" y="628" width="1" height="27" fill="#c0c0c0"/>
<rect x="477" y="628" width="1" height="31" fill="#c0c0c0"/>
<rect x="485" y="628" width="1" height="34" fill="#c0c0c0"/>
<rect x="493" y="628" width="1" height="36" fill="#c0c0c0"/>
<rect x="501" y="628" width="1" height="37" fill="#c0c0c0"/>
<rect x="509" y="628" width="1" height="34" fill="#c0c0c0"/>
<rect x="517" y="628" width="1" height="33" fill="#c0c0c0"/>
<rect x="525" y="628" width="1" height="31" fill="#c0c0c0"/>
<rect x="533" y="628" width="1" height="28" fill="#c0c0c0"/>
<rect x="541" y="628" width="1" height="26" fill="#c0c0c0"/>
<rect x="549" y="628" width="1" height="23" fill="#c0c0c0"/>
<rect x="557" y="628" width="1" height="20" fill="#c0c0c0"/>
<rect x="565" y="628" width="1" height="20" fill="#c0c0c0"/>
<rect x="573" y="628" width="1" height="20" fill="#c0c0c0"/>
<rect x="581" y="628" width="1" height="19" fill="#c0c0c0"/>
<rect x="589" y="628" width="1" height="18" fill="#c0c0c0"/>
<rect x="597" y="628" width="1" height="14" fill="#c0c0c0"/>
<rect x="605" y="628" width="1" height="13" fill="#c0c0c0"/>
<rect x="613" y="628" width="1" height="11" fill="#c0c0c0"/>
<rect x="621" y="628" width="1" height="11" fill="#c0c0c0"/>
<rect x="629" y="628" width="1" height="9" fill="#c0c0c0"/>
<rect x="637" y="628" width="1" height="10" fill="#c0c0c0"/>
<rect x="645" y="628" width="1" height="12" fill="#c0c0c0"/>
<rect x="653" y="628" width="1" height="14" fill="#c0c0c0"/>
<rect x="661" y="628" width="1" height="13" fill="#c0c0c0"/>
<rect x="669" y="628" width="1" height="10" fill="#c0c0c0"/>
<rect x="677" y="628" width="1" height="6" fill="#c0c0c0"/>
<rect x="685" y="628" width="1" height="2" fill="#c0c0c0"/>
<rect x="693" y="627" width="1" height="2" fill="#c0c0c0"/>
<rect x="701" y="623" width="1" height="6" fill="#c0c0c0"/>
<rect x="709" y="621" width="1" height="8" fill="#c0c0c0"/>
<rect x="717" y="614" width="1" height="15" fill="#c0c0c0"/>
<rect x="725" y="609" width="1" height="20" fill="#c0c0c0"/>
<rect x="733" y="603" width="1" height="26" fill="#c0c0c0"/>
<rect x="741" y="599" width="1" height="30" fill="#c0c0c0"/>
<rect x="749" y="599" width="1" height="30" fill="#c0c0c0"/>
<rect x="757" y="597" width="1" height="32" fill="#c0c0c0"/>
<rect x="765" y="598" width="1" height="31" fill="#c0c0c0"/>
<rect x="773" y="599" width="1" height="30" fill="#c0c0c0"/>
<rect x="781" y="601" width="1" height="28" fill="#c0c0c0"/>
<rect x="789" y="603" width="1" height="26" fill="#c0c0c0"/>
<rect x="797" y="604" width="1" height="25" fill="#c0c0c0"/>
<rect x="805" y="606" width="1" height="23" fill="#c0c0c0"/>
<rect x="813" y="602" width="1" height="27" fill="#c0c0c0"/>
<rect x="821" y="597" width="1" height="32" fill="#c0c0c0"/>
<rect x="829" y="595" width="1" height="34" fill="#c0c0c0"/>
<rect x="837" y="593" width="1" height="36" fill="#c0c0c0"/>
<rect x="845" y="594" width="1" height="35" fill="#c0c0c0"/>
<rect x="853" y="595" width="1" height="34" fill="#c0c0c0"/>
<rect x="861" y="599" width="1" height="30" fill="#c0c0c0"/>
<rect x="869" y="604" width="1" height="25" fill="#c0c0c0"/>
<rect x="877" y="608" width="1" height="21" fill="#c0c0c0"/>
<rect x="885" y="610" width="1" height="19" fill="#c0c0c0"/>
<rect x="893" y="619" width="1" height="10" fill="#c0c0c0"/>
<rect x="901" y="624" width="1" height="5" fill="#c0c0c0"/>
<rect x="909" y="628" width="1" height="1" fill="#c0c0c0"/>
<rect x="917" y="628" width="1" height="6" fill="#c0c0c0"/>
<rect x="925" y="628" width="1" height="8" fill="#c0c0c0"/>
<rect x="933" y="628" width="1" height="3" fill="#c0c0c0"/>
<rect x="941" y="628" width="1" height="1" fill="#c0c0c0"/>
<rect x="949" y="626" width="1" height="3" fill="#c0c0c0"/>
<rect x="957" y="623" width="1" height="6" fill="#c0c0c0"/>
<rect x="965" y="623" width="1" height="6" fill="#c0c0c0"/>
<rect x="973" y="623" width="1" height="6" fill="#c0c0c0"/>
<rect x="981" y="618" width="1" height="11" fill="#c0c0c0"/>
<rect x="989" y="614" width="1" height="15" fill="#c0c0c0"/>
<rect x="997" y="613" width="1" height="16" fill="#c0c0c0"/>
<rect x="1005" y="609" width="1" height="20" fill="#c0c0c0"/>
<rect x="1013" y="607" width="1" height="22" fill="#c0c0c0"/>
<rect x="1021" y="606" width="1" height="23" fill="#c0c0c0"/>
<rect x="1029" y="608" width="1" height="21" fill="#c0c0c0"/>
<rect x="1037" y="611" width="1" height="18" fill="#c0c0c0"/>
<rect x="1045" y="615" width="1" height="14" fill="#c0c0c0"/>
<rect x="1053" y="616" width="1" height="13" fill="#c0c0c0"/>
<rect x="1061" y="616" width="1" height="13" fill="#c0c0c0"/>
<rect x="1069" y="616" width="1" height="13" fill="#c0c0c0"/>
<rect x="1077" y="617" width="1" height="12" fill="#c0c0c0"/>
<rect x="1085" y="617" width="1" height="12" fill="#c0c0c0"/>
<rect x="1093" y="617" width="1" height="12" fill="#c0c0c0"/>
<rect x="1101" y="621" width="1" height="8" fill="#c0c0c0"/>
<rect x="1109" y="625" width="1" height="4" fill="#c0c0c0"/>
<rect x="1117" y="628" width="1" height="1" fill="#c0c0c0"/>
<rect x="1125" y="628" width="1" height="9" fill="#c0c0c0"/>
<rect x="1133" y="628" width="1" height="15" fill="#c0c0c0"/>
<rect x="1141" y="628" width="1" height="18" fill="#c0c0c0"/>
<rect x="1149" y="628" width="1" height="21" fill="#c0c0c0"/>
<rect x="1157" y="628" width="1" height="30" fill="#c0c0c0"/>
<rect x="1165" y="628" width="1" height="38" fill="#c0c0c0"/>
<rect x="1173" y="628" width="1" height="43" fill="#c0c0c0"/>
<rect x="1181" y="628" width="1" height="48" fill="#c0c0c0"/>
<rect x="1189" y="628" width="1" height="54" fill="#c0c0c0"/>
<rect x="1197" y="628" width="1" height="55" fill="#c0c0c0"/>
<rect x="1205" y="628" width="1" height="56" fill="#c0c0c0"/>
<rect x="1213" y="628" width="1" height="57" fill="#c0c0c0"/>
<rect x="1221" y="628" width="1" height="57" fill="#c0c0c0"/>
<rect x="1229" y="628" width="1" height="59" fill="#c0c0c0"/>
<rect x="1237" y="628" width="1" height="58" fill="#c0c0c0"/>
<rect x="1245" y="628" width="1" height="58" fill="#c0c0c0"/>
<rect x="1253" y="628" width="1" height="62" fill="#c0c0c0"/>
<rect x="1261" y="628" width="1" height="64" fill="#c0c0c0"/>
<rect x="1269" y="628" width="1" height="70" fill="#c0c0c0"/>
<rect x="1277" y="628" width="1" height="78" fill="#c0c0c0"/>
<rect x="1285" y="628" width="1" height="81" fill="#c0c0c0"/>
<rect x="1293" y="628" width="1" height="84" fill="#c0c0c0"/>
<rect x="1301" y="628" width="1" height="92" fill="#c0c0c0"/>
<rect x="1309" y="628" width="1" height="94" fill="#c0c0c0"/>
<rect x="1317" y="628" width="1" height="90" fill="#c0c0c0"/>
<rect x="1325" y="628" width="1" height="89" fill="#c0c0c0"/>
<rect x="1333" y="628" width="1" height="90" fill="#c0c0c0"/>
<rect x="1341" y="628" width="1" height="90" fill="#c0c0c0"/>
<rect x="1349" y="628" width="1" height="92" fill="#c0c0c0"/>
<rect x="1357" y="628" width="1" height="96" fill="#c0c0c0"/>
<rect x="1365" y="628" width="1" height="103" fill="#c0c0c0"/>
<rect x="1373" y="628" width="1" height="114" fill="#c0c0c0"/>
<rect x="1381" y="628" width="1" height="116" fill="#c0c0c0"/>
<rect x="1389" y="628" width="1" height="105" fill="#c0c0c0"/>
<rect x="1397" y="628" width="1" height="86" fill="#c0c0c0"/>
<rect x="1405" y="628" width="1" height="67" fill="#c0c0c0"/>
<rect x="1413" y="628" width="1" height="56" fill="#c0c0c0"/>
<rect x="1421" y="628" width="1" height="43" fill="#c0c0c0"/>
</g>
<polyline points="0.0,639.7 1.2,639.9 9.9,642.4 24.8,645.6 44.6,647.3 61.9,646.4 79.3,643.9 94.2,638.9 109.0,632.5 121.4,627.5 133.8,624.6 148.7,622.1 158.6,622.1 173.4,624.6 183.3,627.5 195.7,632.5 205.6,636.2 218.0,639.4 227.9,641.9 237.9,646.9 247.8,649.8 257.7,654.3 270.1,660.0 280.0,663.0 289.9,667.2 302.3,670.4 317.1,672.4 332.0,672.4 346.9,669.9 361.7,666.2 376.6,660.5 391.5,654.8 406.3,648.1 415.0,645.6 422.4,643.1 437.3,641.2 454.6,643.1 469.5,646.9 479.4,650.1 494.2,654.3 504.2,657.3 519.0,659.7 533.9,661.2 548.8,660.5 561.1,657.3 573.5,654.3 588.4,652.3 598.3,649.3 613.2,646.4 628.0,643.1 642.9,641.4 657.8,640.7 677.6,639.4 690.0,636.4 707.3,634.0 719.7,629.0 732.1,623.3 742.0,617.6 754.4,610.9 766.8,605.2 781.7,601.8 796.5,599.3 811.4,600.5 822.5,600.3 834.9,599.3 852.2,598.0 869.6,597.3 884.4,599.0 896.8,602.3 906.7,606.7 919.1,614.1 931.5,620.3 943.9,625.3 956.3,627.5 966.2,628.3 978.6,626.5 991.0,623.3 1003.3,619.1 1015.7,615.1 1028.1,612.2 1043.0,610.9 1062.8,610.4 1077.7,611.7 1092.5,613.9 1107.4,616.4 1117.3,617.9 1127.2,622.1 1139.6,626.3 1149.5,630.7 1159.4,637.7 1169.3,644.4 1179.3,651.8 1189.2,659.2 1199.1,664.7 1209.0,669.9 1218.9,675.3 1228.8,680.3 1238.2,682.8 1251.9,685.3 1262.9,686.7 1276.6,690.2 1290.4,695.2 1304.1,701.2 1315.0,706.7 1326.0,711.4 1339.7,714.9 1353.5,717.7 1364.4,719.6 1375.4,724.5 1386.4,727.3 1394.6,728.6 1402.8,726.7 1411.1,723.1 1420.1,717.1" fill="none" stroke="#ff0000" stroke-width="1.0" stroke-dasharray="3 3" shape-rendering="crispEdges"/>
<g shape-rendering="crispEdges">
<line x1="0" y1="791.5" x2="1648" y2="791.5" stroke="#c0c0c0" stroke-width="1" stroke-dasharray="3 2.5"/>
<line x1="0" y1="842.5" x2="1648" y2="842.5" stroke="#c0c0c0" stroke-width="1" stroke-dasharray="3 2.5"/>
<line x1="0" y1="903.5" x2="1648" y2="903.5" stroke="#c0c0c0" stroke-width="1" stroke-dasharray="3 2.5"/>
</g>
<polyline points="0.0,865.2 5.5,865.2 13.5,865.2 21.5,862.2 29.5,871.9 37.5,844.9 45.5,848.4 53.5,837.2 61.5,834.2 69.5,833.3 77.5,836.2 85.5,831.3 93.5,822.3 101.5,822.3 109.5,827.3 117.5,823.8 125.5,842.2 133.5,840.4 141.5,858.3 149.5,852.1 157.5,853.3 165.5,854.6 173.5,862.0 181.5,866.5 189.5,862.7 197.5,859.0 205.5,858.3 213.5,856.0 221.5,875.1 229.5,878.8 237.5,881.3 245.5,885.0 253.5,889.2 261.5,890.5 269.5,872.2 277.5,877.1 285.5,871.4 293.5,869.4 301.5,873.1 309.5,863.2 317.5,871.9 325.5,875.4 333.5,860.3 341.5,844.9 349.5,848.6 357.5,845.4 365.5,838.0 373.5,839.9 381.5,841.7 389.5,847.4 397.5,837.2 405.5,845.9 413.5,857.3 421.5,859.5 429.5,855.3 437.5,864.5 445.5,868.4 453.5,857.3 461.5,866.0 469.5,867.7 477.5,873.1 485.5,875.4 493.5,870.7 501.5,869.4 509.5,862.2 517.5,859.0 525.5,857.3 533.5,854.1 541.5,851.1 549.5,852.3 557.5,845.4 565.5,858.3 573.5,859.5 581.5,854.8 589.5,852.8 597.5,838.0 605.5,847.4 613.5,846.1 621.5,848.4 629.5,844.2 637.5,852.8 645.5,862.2 653.5,865.5 661.5,855.3 669.5,837.5 677.5,831.3 685.5,823.8 693.5,825.6 701.5,820.6 709.5,826.3 717.5,811.4 725.5,808.7 733.5,806.5 741.5,805.3 749.5,820.6 757.5,814.4 765.5,822.3 773.5,825.1 781.5,825.1 789.5,833.5 797.5,830.0 805.5,832.5 813.5,810.7 821.5,805.3 829.5,816.4 837.5,813.2 845.5,821.9 853.5,823.8 861.5,839.2 869.5,842.4 877.5,841.2 885.5,839.2 893.5,861.0 901.5,855.3 909.5,861.0 917.5,865.5 925.5,847.9 933.5,832.3 941.5,829.3 949.5,832.3 957.5,832.3 965.5,841.2 973.5,836.7 981.5,824.3 989.5,824.3 997.5,828.3 1005.5,821.4 1013.5,824.3 1021.5,826.3 1029.5,837.5 1037.5,842.2 1045.5,844.4 1053.5,839.9 1061.5,834.2 1069.5,832.3 1077.5,839.2 1085.5,834.5 1093.5,834.5 1101.5,849.1 1109.5,854.1 1117.5,854.6 1125.5,874.4 1133.5,868.4 1141.5,863.5 1149.5,864.5 1157.5,881.3 1165.5,882.6 1173.5,882.6 1181.5,885.5 1189.5,889.5 1197.5,876.4 1205.5,876.4 1213.5,878.3 1221.5,880.6 1229.5,882.6 1237.5,880.2 1245.5,880.3 1253.5,891.3 1261.5,888.0 1269.5,898.1 1277.5,900.3 1285.5,899.0 1293.5,900.3 1301.5,906.4 1309.5,892.7 1317.5,877.8 1325.5,879.8 1333.5,888.0 1341.5,877.0 1349.5,886.4 1357.5,889.1 1365.5,894.6 1373.5,900.3 1381.5,884.4 1389.5,852.9 1397.5,837.8 1405.5,835.6 1413.5,842.5 1421.5,837.2" fill="none" stroke="#1e90ff" stroke-width="1.0" shape-rendering="crispEdges"/>
<g shape-rendering="crispEdges">
<rect x="988" y="101" width="10" height="1" fill="#ff0000"/>
<rect x="997" y="101" width="1" height="3" fill="#ff0000"/>
<rect x="476" y="266" width="10" height="1" fill="#ff0000"/>
<rect x="1213" y="251" width="12" height="1" fill="#ff0000"/>
<rect x="1388" y="345" width="10" height="1" fill="#ff0000"/>
<rect x="1158" y="357" width="10" height="1" fill="#ff0000"/>
<rect x="1364" y="568" width="10" height="1" fill="#ff0000"/>
</g>
<rect x="926.5" y="92.5" width="61" height="18" fill="#fff" stroke="#ff0000" stroke-width="1" shape-rendering="crispEdges"/><text transform="translate(928.3,108.2) scale(1,1.06)" font-size="16" fill="#ff0000">25058.8</text>
<rect x="414.5" y="257.5" width="61" height="18" fill="#fff" stroke="#ff0000" stroke-width="1" shape-rendering="crispEdges"/><text transform="translate(416.3,273.2) scale(1,1.06)" font-size="16" fill="#ff0000">22655.0</text>
<rect x="1224.5" y="242.5" width="61" height="18" fill="#fff" stroke="#ff0000" stroke-width="1" shape-rendering="crispEdges"/><text transform="translate(1226.3,258.2) scale(1,1.06)" font-size="16" fill="#ff0000">22866.2</text>
<rect x="1326.5" y="336.5" width="61" height="18" fill="#fff" stroke="#ff0000" stroke-width="1" shape-rendering="crispEdges"/><text transform="translate(1328.3,352.2) scale(1,1.06)" font-size="16" fill="#ff0000">21494.5</text>
<rect x="1302.5" y="559.5" width="61" height="18" fill="#fff" stroke="#ff0000" stroke-width="1" shape-rendering="crispEdges"/><text transform="translate(1304.3,575.2) scale(1,1.06)" font-size="16" fill="#ff0000">18236.0</text>
<rect x="1168.5" y="345.5" width="73" height="24" fill="#fff" stroke="#ff0000" stroke-width="1" shape-rendering="crispEdges"/><text transform="translate(1169.6,366.2) scale(1,1.17)" font-size="19.5" fill="#ff0000">21319.2</text>
<line x1="1281.8" y1="347.5" x2="1370.4" y2="560.4" stroke="#e6151f" stroke-width="4.0"/><polygon points="1378.3,577.2 1363.2,562.9 1378.8,556.4" fill="#e6151f"/>
<line x1="1379.6" y1="575.0" x2="1423.5" y2="360.7" stroke="#e6151f" stroke-width="3.7"/><polygon points="1426.7,345.0 1431.9,363.4 1414.7,359.9" fill="#e6151f"/>
<line x1="1385.8" y1="748.7" x2="1442.4" y2="668.9" stroke="#e6151f" stroke-width="3.4"/><polygon points="1451.7,655.9 1448.8,674.7 1434.9,664.8" fill="#e6151f"/>
<line x1="1363.6" y1="899.0" x2="1389.1" y2="852.3" stroke="#e6151f" stroke-width="3.4"/><polygon points="1396.8,838.3 1396.1,857.3 1381.2,849.1" fill="#e6151f"/>
<line x1="1396.8" y1="839.5" x2="1417.2" y2="835.9" stroke="#e6151f" stroke-width="3.4"/><polygon points="1433.0,833.1 1417.7,844.4 1414.8,827.7" fill="#e6151f"/>
</g>
<!-- trade panel -->
<defs>
<linearGradient id="gBtn" x1="0" y1="0" x2="0" y2="1"><stop offset="0" stop-color="#f95252"/><stop offset="1" stop-color="#de3232"/></linearGradient>
<linearGradient id="gPrice" gradientUnits="userSpaceOnUse" x1="0" y1="73" x2="0" y2="104"><stop offset="0" stop-color="#dc2d2d"/><stop offset="0.55" stop-color="#c91c1c"/><stop offset="1" stop-color="#ab0303"/></linearGradient>
<linearGradient id="gPriceT" gradientUnits="userSpaceOnUse" x1="0" y1="-25.05" x2="0" y2="3.39"><stop offset="0" stop-color="#dc2d2d"/><stop offset="0.55" stop-color="#c91c1c"/><stop offset="1" stop-color="#ab0303"/></linearGradient>
<linearGradient id="gSpin" x1="0" y1="0" x2="0" y2="1"><stop offset="0" stop-color="#f2f2f2"/><stop offset="0.33" stop-color="#e9e9e9"/><stop offset="0.34" stop-color="#dcdcdc"/><stop offset="1" stop-color="#d2d2d2"/></linearGradient>
</defs>
<g shape-rendering="crispEdges">
<rect x="0" y="48" width="211" height="57" fill="#fff"/>
<rect x="0" y="48" width="44" height="25" fill="#b40000"/>
<rect x="0" y="49" width="43" height="24" fill="url(#gBtn)"/>
<rect x="159" y="48" width="52" height="25" fill="#b40000"/>
<rect x="160" y="49" width="50" height="24" fill="url(#gBtn)"/>
<rect x="0" y="72" width="101" height="33" fill="#b00000"/>
<rect x="0" y="73" width="100" height="31" fill="url(#gPrice)"/>
<rect x="0" y="72" width="43" height="1" fill="#e03535"/>
<rect x="103" y="72" width="108" height="33" fill="#b00000"/>
<rect x="104" y="73" width="106" height="31" fill="url(#gPrice)"/>
<rect x="160" y="72" width="50" height="1" fill="#e03535"/>
<rect x="0" y="71" width="40" height="1" fill="#8e0000"/><rect x="0" y="72" width="40" height="1" fill="#f07c7c"/>
<rect x="163" y="71" width="44" height="1" fill="#8e0000"/><rect x="163" y="72" width="44" height="1" fill="#f07c7c"/>
<rect x="46.5" y="48.5" width="110" height="21" fill="#fff" stroke="#a9afb8"/>
<rect x="48" y="50" width="18" height="18" fill="url(#gSpin)"/>
<rect x="137" y="50" width="18" height="18" fill="url(#gSpin)"/>
<rect x="67" y="49" width="1" height="20" fill="#b4b9c0"/>
<rect x="135" y="49" width="1" height="20" fill="#b4b9c0"/>
</g>
<polygon points="53.8,57 59.2,57 56.5,60.2" fill="#4a59c0"/>
<polygon points="143.3,60 148.9,60 146.1,56.8" fill="#4a59c0"/>
<text x="131.8" y="62.8" font-size="12" text-anchor="end" fill="#000">1.00</text>
<text x="4.2" y="64" font-size="10.6" fill="#fff" transform="translate(4.2,64) scale(0.97,1.1) translate(-4.2,-64)">SELL</text>
<text x="172.6" y="64" font-size="10.9" fill="#fff" transform="translate(172.6,64) scale(1,1.08) translate(-172.6,-64)">BUY</text>
<text x="8" y="100" font-size="12.2" font-weight="bold" fill="#fff">21413</text>
<text x="118.2" y="100" font-size="12.2" font-weight="bold" fill="#fff">21430</text>
<rect x="47.2" y="95.8" width="4.3" height="4.4" rx="1" fill="#fff"/>
<rect x="158.5" y="95.8" width="4.3" height="4.4" rx="1" fill="#fff"/>
<text transform="translate(54.1,100.3) scale(0.91,1.07)" font-size="33.5" fill="#fff" stroke="url(#gPriceT)" stroke-width="0.35">5</text>
<text transform="translate(165.1,100.3) scale(0.91,1.07)" font-size="33.5" fill="#fff" stroke="url(#gPriceT)" stroke-width="0.35">5</text>
<!-- frame, axes, labels -->
<g shape-rendering="crispEdges">
<rect x="1694" y="26" width="1" height="920" fill="#e3e3e3"/>
<rect x="0" y="28" width="1649" height="1" fill="#000"/>
<rect x="1648" y="28" width="1" height="554" fill="#000"/>
<rect x="0" y="581" width="1649" height="1" fill="#000"/>
<rect x="0" y="583" width="1649" height="1" fill="#000"/>
<rect x="1648" y="583" width="1" height="171" fill="#000"/>
<rect x="0" y="753" width="1649" height="1" fill="#000"/>
<rect x="0" y="755" width="1649" height="1" fill="#000"/>
<rect x="1648" y="755" width="1" height="175" fill="#000"/>
<rect x="0" y="929" width="1649" height="1" fill="#000"/>
<rect x="1649" y="50" width="2" height="1" fill="#000"/>
<rect x="1649" y="83" width="2" height="1" fill="#000"/>
<rect x="1649" y="116" width="2" height="1" fill="#000"/>
<rect x="1649" y="149" width="2" height="1" fill="#000"/>
<rect x="1649" y="182" width="2" height="1" fill="#000"/>
<rect x="1649" y="215" width="2" height="1" fill="#000"/>
<rect x="1649" y="248" width="2" height="1" fill="#000"/>
<rect x="1649" y="281" width="2" height="1" fill="#000"/>
<rect x="1649" y="314" width="2" height="1" fill="#000"/>
<rect x="1649" y="347" width="2" height="1" fill="#000"/>
<rect x="1649" y="380" width="2" height="1" fill="#000"/>
<rect x="1649" y="413" width="2" height="1" fill="#000"/>
<rect x="1649" y="446" width="2" height="1" fill="#000"/>
<rect x="1649" y="479" width="2" height="1" fill="#000"/>
<rect x="1649" y="512" width="2" height="1" fill="#000"/>
<rect x="1649" y="545" width="2" height="1" fill="#000"/>
<rect x="1649" y="578" width="2" height="1" fill="#000"/>
<rect x="1649" y="585" width="2" height="1" fill="#000"/>
<rect x="1649" y="628" width="2" height="1" fill="#000"/>
<rect x="1649" y="752" width="2" height="1" fill="#000"/>
<rect x="1649" y="757" width="2" height="1" fill="#000"/>
<rect x="1649" y="791" width="2" height="1" fill="#000"/>
<rect x="1649" y="842" width="2" height="1" fill="#000"/>
<rect x="1649" y="903" width="2" height="1" fill="#000"/>
<rect x="1649" y="928" width="2" height="1" fill="#000"/>
<rect x="53" y="929" width="1" height="4" fill="#000"/>
<rect x="117" y="929" width="1" height="4" fill="#000"/>
<rect x="181" y="929" width="1" height="4" fill="#000"/>
<rect x="245" y="929" width="1" height="4" fill="#000"/>
<rect x="309" y="929" width="1" height="4" fill="#000"/>
<rect x="373" y="929" width="1" height="4" fill="#000"/>
<rect x="437" y="929" width="1" height="4" fill="#000"/>
<rect x="501" y="929" width="1" height="4" fill="#000"/>
<rect x="565" y="929" width="1" height="4" fill="#000"/>
<rect x="629" y="929" width="1" height="4" fill="#000"/>
<rect x="693" y="929" width="1" height="4" fill="#000"/>
<rect x="757" y="929" width="1" height="4" fill="#000"/>
<rect x="821" y="929" width="1" height="4" fill="#000"/>
<rect x="885" y="929" width="1" height="4" fill="#000"/>
<rect x="949" y="929" width="1" height="4" fill="#000"/>
<rect x="1013" y="929" width="1" height="4" fill="#000"/>
<rect x="1077" y="929" width="1" height="4" fill="#000"/>
<rect x="1141" y="929" width="1" height="4" fill="#000"/>
<rect x="1205" y="929" width="1" height="4" fill="#000"/>
<rect x="1269" y="929" width="1" height="4" fill="#000"/>
<rect x="1333" y="929" width="1" height="4" fill="#000"/>
<rect x="1397" y="929" width="1" height="4" fill="#000"/>
</g>
<text transform="translate(1654.3,54.0) scale(1,1.12)" font-size="9.15" fill="#000" text-anchor="start" font-weight="normal" >25818.0</text>
<text transform="translate(1654.3,87.0) scale(1,1.12)" font-size="9.15" fill="#000" text-anchor="start" font-weight="normal" >25325.0</text>
<text transform="translate(1654.3,120.0) scale(1,1.12)" font-size="9.15" fill="#000" text-anchor="start" font-weight="normal" >24846.5</text>
<text transform="translate(1654.3,153.0) scale(1,1.12)" font-size="9.15" fill="#000" text-anchor="start" font-weight="normal" >24368.0</text>
<text transform="translate(1654.3,186.0) scale(1,1.12)" font-size="9.15" fill="#000" text-anchor="start" font-weight="normal" >23875.0</text>
<text transform="translate(1654.3,219.0) scale(1,1.12)" font-size="9.15" fill="#000" text-anchor="start" font-weight="normal" >23396.5</text>
<text transform="translate(1654.3,252.0) scale(1,1.12)" font-size="9.15" fill="#000" text-anchor="start" font-weight="normal" >22918.0</text>
<text transform="translate(1654.3,285.0) scale(1,1.12)" font-size="9.15" fill="#000" text-anchor="start" font-weight="normal" >22425.0</text>
<text transform="translate(1654.3,318.0) scale(1,1.12)" font-size="9.15" fill="#000" text-anchor="start" font-weight="normal" >21946.5</text>
<text transform="translate(1654.3,351.0) scale(1,1.12)" font-size="9.15" fill="#000" text-anchor="start" font-weight="normal" >21453.5</text>
<text transform="translate(1654.3,384.0) scale(1,1.12)" font-size="9.15" fill="#000" text-anchor="start" font-weight="normal" >20975.0</text>
<text transform="translate(1654.3,417.0) scale(1,1.12)" font-size="9.15" fill="#000" text-anchor="start" font-weight="normal" >20496.5</text>
<text transform="translate(1654.3,450.0) scale(1,1.12)" font-size="9.15" fill="#000" text-anchor="start" font-weight="normal" >20018.0</text>
<text transform="translate(1654.3,483.0) scale(1,1.12)" font-size="9.15" fill="#000" text-anchor="start" font-weight="normal" >19525.0</text>
<text transform="translate(1654.3,516.0) scale(1,1.12)" font-size="9.15" fill="#000" text-anchor="start" font-weight="normal" >19046.5</text>
<text transform="translate(1654.3,549.0) scale(1,1.12)" font-size="9.15" fill="#000" text-anchor="start" font-weight="normal" >18568.0</text>
<text transform="translate(1654.3,582.0) scale(1,1.12)" font-size="9.15" fill="#000" text-anchor="start" font-weight="normal" >18089.5</text>
<rect x="1650" y="266" width="41" height="11" fill="#ff0000" shape-rendering="crispEdges"/><text transform="translate(1654,274.8) scale(1,1.12)" font-size="9.15" fill="#fff" text-anchor="start" font-weight="normal" >22561.2</text>
<rect x="1650" y="306" width="41" height="11" fill="#ff0000" shape-rendering="crispEdges"/><text transform="translate(1654,314.8) scale(1,1.12)" font-size="9.15" fill="#fff" text-anchor="start" font-weight="normal" >21976.7</text>
<rect x="1650" y="344" width="41" height="11" fill="#000000" shape-rendering="crispEdges"/><text transform="translate(1654,352.8) scale(1,1.12)" font-size="9.15" fill="#fff" text-anchor="start" font-weight="normal" >21415.0</text>
<rect x="1650" y="351" width="41" height="11" fill="#32cd32" shape-rendering="crispEdges"/><text transform="translate(1654,359.8) scale(1,1.12)" font-size="9.15" fill="#fff" text-anchor="start" font-weight="normal" >21319.2</text>
<rect x="1650" y="380" width="41" height="11" fill="#0000ff" shape-rendering="crispEdges"/><text transform="translate(1654,388.8) scale(1,1.12)" font-size="9.15" fill="#fff" text-anchor="start" font-weight="normal" >20895.4</text>
<rect x="1650" y="412" width="41" height="11" fill="#0000ff" shape-rendering="crispEdges"/><text transform="translate(1654,420.8) scale(1,1.12)" font-size="9.15" fill="#fff" text-anchor="start" font-weight="normal" >20427.8</text>
<text transform="translate(1652.1,594) scale(1,1.12)" font-size="9.15" fill="#000" text-anchor="start" font-weight="normal" >389.44</text>
<text transform="translate(1654.3,631.8) scale(1,1.12)" font-size="9.15" fill="#000" text-anchor="start" font-weight="normal" >0.00</text>
<text transform="translate(1652.1,750) scale(1,1.12)" font-size="9.15" fill="#000" text-anchor="start" font-weight="normal" >-1099.78</text>
<text transform="translate(1652.5,765.7) scale(1,1.12)" font-size="9.15" fill="#000" text-anchor="start" font-weight="normal" >100</text>
<text transform="translate(1652.5,795) scale(1,1.12)" font-size="9.15" fill="#000" text-anchor="start" font-weight="normal" >80</text>
<text transform="translate(1652.5,845.8) scale(1,1.12)" font-size="9.15" fill="#000" text-anchor="start" font-weight="normal" >50</text>
<text transform="translate(1652.5,906.5) scale(1,1.12)" font-size="9.15" fill="#000" text-anchor="start" font-weight="normal" >15</text>
<text transform="translate(1652.5,926) scale(1,1.12)" font-size="9.15" fill="#000" text-anchor="start" font-weight="normal" >0</text>
<text transform="translate(-11.3,942) scale(1,1.12)" font-size="9.35" fill="#000" text-anchor="start" font-weight="normal" >5 Nov 2021</text>
<text transform="translate(52.7,942) scale(1,1.12)" font-size="9.35" fill="#000" text-anchor="start" font-weight="normal" >11 Nov 05:00</text>
<text transform="translate(116.7,942) scale(1,1.12)" font-size="9.35" fill="#000" text-anchor="start" font-weight="normal" >17 Nov 05:00</text>
<text transform="translate(180.7,942) scale(1,1.12)" font-size="9.35" fill="#000" text-anchor="start" font-weight="normal" >23 Nov 05:00</text>
<text transform="translate(244.7,942) scale(1,1.12)" font-size="9.35" fill="#000" text-anchor="start" font-weight="normal" >29 Nov 05:00</text>
<text transform="translate(308.7,942) scale(1,1.12)" font-size="9.35" fill="#000" text-anchor="start" font-weight="normal" >3 Dec 05:00</text>
<text transform="translate(372.7,942) scale(1,1.12)" font-size="9.35" fill="#000" text-anchor="start" font-weight="normal" >9 Dec 05:00</text>
<text transform="translate(436.7,942) scale(1,1.12)" font-size="9.35" fill="#000" text-anchor="start" font-weight="normal" >15 Dec 05:00</text>
<text transform="translate(500.7,942) scale(1,1.12)" font-size="9.35" fill="#000" text-anchor="start" font-weight="normal" >21 Dec 05:00</text>
<text transform="translate(564.7,942) scale(1,1.12)" font-size="9.35" fill="#000" text-anchor="start" font-weight="normal" >29 Dec 01:15</text>
<text transform="translate(628.7,942) scale(1,1.12)" font-size="9.35" fill="#000" text-anchor="start" font-weight="normal" >4 Jan 05:00</text>
<text transform="translate(692.7,942) scale(1,1.12)" font-size="9.35" fill="#000" text-anchor="start" font-weight="normal" >10 Jan 05:00</text>
<text transform="translate(756.7,942) scale(1,1.12)" font-size="9.35" fill="#000" text-anchor="start" font-weight="normal" >14 Jan 05:00</text>
<text transform="translate(820.7,942) scale(1,1.12)" font-size="9.35" fill="#000" text-anchor="start" font-weight="normal" >20 Jan 05:00</text>
<text transform="translate(884.7,942) scale(1,1.12)" font-size="9.35" fill="#000" text-anchor="start" font-weight="normal" >26 Jan 05:00</text>
<text transform="translate(948.7,942) scale(1,1.12)" font-size="9.35" fill="#000" text-anchor="start" font-weight="normal" >7 Feb 01:15</text>
<text transform="translate(1012.7,942) scale(1,1.12)" font-size="9.35" fill="#000" text-anchor="start" font-weight="normal" >11 Feb 01:15</text>
<text transform="translate(1076.7,942) scale(1,1.12)" font-size="9.35" fill="#000" text-anchor="start" font-weight="normal" >17 Feb 01:15</text>
<text transform="translate(1140.7,942) scale(1,1.12)" font-size="9.35" fill="#000" text-anchor="start" font-weight="normal" >23 Feb 01:15</text>
<text transform="translate(1204.7,942) scale(1,1.12)" font-size="9.35" fill="#000" text-anchor="start" font-weight="normal" >1 Mar 01:15</text>
<text transform="translate(1268.7,942) scale(1,1.12)" font-size="9.35" fill="#000" text-anchor="start" font-weight="normal" >7 Mar 01:15</text>
<text transform="translate(1332.7,942) scale(1,1.12)" font-size="9.35" fill="#000" text-anchor="start" font-weight="normal" >11 Mar 01:15</text>
<text transform="translate(1396.7,942) scale(1,1.12)" font-size="9.35" fill="#000" text-anchor="start" font-weight="normal" >17 Mar 01:15</text>
<text transform="translate(4.5,39.8) scale(1,1.12)" font-size="9.28" fill="#000" text-anchor="start" font-weight="normal" >HK50-,H4&#160;&#160;20995.0 21629.0 20972.0 21415.0</text>
<text transform="translate(-4.7,596) scale(1,1.12)" font-size="9.24" fill="#000" text-anchor="start" font-weight="normal" >MACD(12,26,9) -378.30 -776.35</text>
<text transform="translate(-6.4,768.2) scale(1,1.12)" font-size="9.15" fill="#000" text-anchor="start" font-weight="normal" >RSI(14) 53.8190</text>
<polygon points="1427,29 1437,29 1432,34.5" fill="#c0c0c0"/>
<!-- toolbar -->
<defs>
<pattern id="dither" width="2" height="2" patternUnits="userSpaceOnUse"><rect width="2" height="2" fill="#f0f0f0"/><rect x="0" y="0" width="1" height="1" fill="#fff"/><rect x="1" y="1" width="1" height="1" fill="#fff"/></pattern>
<linearGradient id="gPlus" x1="0" y1="0" x2="1" y2="1"><stop offset="0" stop-color="#8cff8c"/><stop offset="0.5" stop-color="#28ec38"/><stop offset="1" stop-color="#0cb00c"/></linearGradient>
<linearGradient id="gGold" x1="0" y1="0" x2="1" y2="1"><stop offset="0" stop-color="#ffe27a"/><stop offset="0.6" stop-color="#e8b020"/><stop offset="1" stop-color="#b87c08"/></linearGradient>
<linearGradient id="gBlueBox" x1="0" y1="0" x2="1" y2="0"><stop offset="0" stop-color="#2a8cf0"/><stop offset="1" stop-color="#8ccaff"/></linearGradient>
<radialGradient id="gLens" cx="0.4" cy="0.35" r="0.7"><stop offset="0" stop-color="#f4fbff"/><stop offset="1" stop-color="#c4e6fa"/></radialGradient>
<radialGradient id="gBadge" cx="0.5" cy="0.25" r="0.8"><stop offset="0" stop-color="#ea5a3a"/><stop offset="1" stop-color="#dc2a14"/></radialGradient>
<linearGradient id="gClock" x1="0" y1="0" x2="0" y2="1"><stop offset="0" stop-color="#3a9af0"/><stop offset="1" stop-color="#0a48b0"/></linearGradient>
<linearGradient id="gGreenTile" x1="0" y1="0" x2="0" y2="1"><stop offset="0" stop-color="#3aa020"/><stop offset="1" stop-color="#5cc040"/></linearGradient>
<linearGradient id="gBlueTile" x1="0" y1="0" x2="0" y2="1"><stop offset="0" stop-color="#1848c8"/><stop offset="1" stop-color="#4a88f0"/></linearGradient>
<linearGradient id="gCandle" x1="0" y1="0" x2="1" y2="0"><stop offset="0" stop-color="#18c018"/><stop offset="0.5" stop-color="#60f060"/><stop offset="1" stop-color="#18b018"/></linearGradient>
</defs>
<g shape-rendering="crispEdges">
<rect x="0" y="0" width="1695" height="24" fill="#f0f0f0"/>
<rect x="0" y="24" width="1695" height="1" fill="#a6a6a6"/>
<rect x="0" y="25" width="1695" height="1" fill="#6a6a6a"/>
<rect x="0" y="26" width="1695" height="2" fill="#fff"/>
<rect x="9" y="1" width="1" height="21" fill="#a0a0a0"/><rect x="10" y="1" width="1" height="21" fill="#fafafa"/>
<rect x="340" y="1" width="1" height="21" fill="#a0a0a0"/><rect x="341" y="1" width="1" height="21" fill="#fafafa"/>
<rect x="430" y="1" width="1" height="21" fill="#a0a0a0"/><rect x="431" y="1" width="1" height="21" fill="#fafafa"/>
<rect x="492" y="1" width="1" height="21" fill="#a0a0a0"/><rect x="493" y="1" width="1" height="21" fill="#fafafa"/>
<rect x="680" y="1" width="1" height="21" fill="#a0a0a0"/><rect x="681" y="1" width="1" height="21" fill="#fafafa"/>
<rect x="245" y="0" width="1" height="24" fill="#a0a0a0"/><rect x="246" y="0" width="1" height="24" fill="#fff"/>
<rect x="613" y="0" width="1" height="24" fill="#a0a0a0"/><rect x="614" y="0" width="1" height="24" fill="#fff"/>
<rect x="919" y="0" width="1" height="24" fill="#a0a0a0"/><rect x="920" y="0" width="1" height="24" fill="#fff"/>
<rect x="1180" y="0" width="1" height="24" fill="#a0a0a0"/><rect x="1181" y="0" width="1" height="24" fill="#fff"/>
<rect x="249" y="2" width="3" height="1" fill="#a8a8a8"/><rect x="249" y="4" width="3" height="1" fill="#a8a8a8"/><rect x="249" y="6" width="3" height="1" fill="#a8a8a8"/><rect x="249" y="8" width="3" height="1" fill="#a8a8a8"/><rect x="249" y="10" width="3" height="1" fill="#a8a8a8"/><rect x="249" y="12" width="3" height="1" fill="#a8a8a8"/><rect x="249" y="14" width="3" height="1" fill="#a8a8a8"/><rect x="249" y="16" width="3" height="1" fill="#a8a8a8"/><rect x="249" y="18" width="3" height="1" fill="#a8a8a8"/><rect x="249" y="20" width="3" height="1" fill="#a8a8a8"/>
<rect x="617" y="2" width="3" height="1" fill="#a8a8a8"/><rect x="617" y="4" width="3" height="1" fill="#a8a8a8"/><rect x="617" y="6" width="3" height="1" fill="#a8a8a8"/><rect x="617" y="8" width="3" height="1" fill="#a8a8a8"/><rect x="617" y="10" width="3" height="1" fill="#a8a8a8"/><rect x="617" y="12" width="3" height="1" fill="#a8a8a8"/><rect x="617" y="14" width="3" height="1" fill="#a8a8a8"/><rect x="617" y="16" width="3" height="1" fill="#a8a8a8"/><rect x="617" y="18" width="3" height="1" fill="#a8a8a8"/><rect x="617" y="20" width="3" height="1" fill="#a8a8a8"/>
<rect x="923" y="2" width="3" height="1" fill="#a8a8a8"/><rect x="923" y="4" width="3" height="1" fill="#a8a8a8"/><rect x="923" y="6" width="3" height="1" fill="#a8a8a8"/><rect x="923" y="8" width="3" height="1" fill="#a8a8a8"/><rect x="923" y="10" width="3" height="1" fill="#a8a8a8"/><rect x="923" y="12" width="3" height="1" fill="#a8a8a8"/><rect x="923" y="14" width="3" height="1" fill="#a8a8a8"/><rect x="923" y="16" width="3" height="1" fill="#a8a8a8"/><rect x="923" y="18" width="3" height="1" fill="#a8a8a8"/><rect x="923" y="20" width="3" height="1" fill="#a8a8a8"/>
<rect x="283" y="0" width="25" height="22" fill="url(#dither)"/><rect x="283" y="0" width="25" height="1" fill="#a0a0a0"/><rect x="283" y="0" width="1" height="22" fill="#a0a0a0"/><rect x="307" y="1" width="1" height="21" fill="#fff"/><rect x="284" y="21" width="24" height="1" fill="#fff"/>
<rect x="435" y="0" width="25" height="22" fill="url(#dither)"/><rect x="435" y="0" width="25" height="1" fill="#a0a0a0"/><rect x="435" y="0" width="1" height="22" fill="#a0a0a0"/><rect x="459" y="1" width="1" height="21" fill="#fff"/><rect x="436" y="21" width="24" height="1" fill="#fff"/>
<rect x="463" y="0" width="25" height="22" fill="url(#dither)"/><rect x="463" y="0" width="25" height="1" fill="#a0a0a0"/><rect x="463" y="0" width="1" height="22" fill="#a0a0a0"/><rect x="487" y="1" width="1" height="21" fill="#fff"/><rect x="464" y="21" width="24" height="1" fill="#fff"/>
<rect x="623" y="0" width="25" height="22" fill="url(#dither)"/><rect x="623" y="0" width="25" height="1" fill="#a0a0a0"/><rect x="623" y="0" width="1" height="22" fill="#a0a0a0"/><rect x="647" y="1" width="1" height="21" fill="#fff"/><rect x="624" y="21" width="24" height="1" fill="#fff"/>
<rect x="1069" y="0" width="25" height="22" fill="url(#dither)"/><rect x="1069" y="0" width="25" height="1" fill="#a0a0a0"/><rect x="1069" y="0" width="1" height="22" fill="#a0a0a0"/><rect x="1093" y="1" width="1" height="21" fill="#fff"/><rect x="1070" y="21" width="24" height="1" fill="#fff"/>
</g>
<text x="37.8" y="14.76" font-size="12" fill="#000" stroke="#000" stroke-width="0.3" style="font-family:'Liberation Sans','Noto Sans CJK SC',sans-serif">新订单</text>
<text x="190.3" y="14.98" font-size="11.8" fill="#000" stroke="#000" stroke-width="0.3" style="font-family:'Liberation Sans','Noto Sans CJK SC',sans-serif">自动交易</text>
<path d="M0,18.5 L1.5,19.5 L1,21.5 L0,21.5 Z" fill="#c08a10"/>
<path d="M19.4,4.8 h8.0 l3.5,3.5 v9.5 h-11.5 Z" fill="#fdfdfd" stroke="#6e6e6e" stroke-width="1" stroke-linejoin="round"/><path d="M27.4,4.8 v3.5 h3.5" fill="#e8e8e8" stroke="#6e6e6e" stroke-width="0.7"/>
<g stroke="#9a9a9a" stroke-width="1"><path d="M21.5,7.5 h3 M21.5,10.5 h6 M21.5,12.5 h6 M21.5,14.5 h3"/></g>
<path d="M27.23333333333333,10.4 h3.8333333333333335 v3.8333333333333335 h3.8333333333333335 v3.8333333333333335 h-3.8333333333333335 v3.8333333333333335 h-3.8333333333333335 v-3.8333333333333335 h-3.8333333333333335 v-3.8333333333333335 h3.8333333333333335 Z" fill="url(#gPlus)" stroke="#0a8c0a" stroke-width="1.1" stroke-linejoin="round"/>
<defs><linearGradient id="gBook" x1="0.2" y1="0" x2="0.8" y2="1"><stop offset="0" stop-color="#f8d850"/><stop offset="0.45" stop-color="#f2c21c"/><stop offset="1" stop-color="#c88c0c"/></linearGradient><linearGradient id="gCloud" x1="0" y1="0" x2="0" y2="1"><stop offset="0" stop-color="#ffffff"/><stop offset="1" stop-color="#bcc6da"/></linearGradient><linearGradient id="gPie" x1="0" y1="0" x2="1" y2="1"><stop offset="0" stop-color="#d8f0d0" stop-opacity="0.7"/><stop offset="1" stop-color="#3aa83a"/></linearGradient><linearGradient id="gFace" x1="0" y1="0" x2="1" y2="0"><stop offset="0" stop-color="#f0c020"/><stop offset="0.5" stop-color="#fff88a"/><stop offset="1" stop-color="#f0c020"/></linearGradient></defs>
<path d="M91.7,5 L101.1,11.6 L101.8,14.2 L93.9,19.8 L86.1,13.9 Q89.3,10.6 91.7,5 Z" fill="url(#gBook)" stroke="#a86c08" stroke-width="0.9" stroke-linejoin="round"/>
<path d="M94.7,18.4 L101.2,12.9 L101.5,13.9 L94.6,19.2 Z" fill="#ece8b8"/>
<path d="M87.3,14.6 L94.2,18.9" stroke="#ffe98a" stroke-width="1.1"/>
<path d="M87,12.7 L94.4,17.4 L101,11.9" fill="none" stroke="#b07a0a" stroke-width="0.7"/>
<path d="M116.2,4.4 L124,4.4 L126.9,6.6 L126.9,13 L116.2,13 Z" fill="#1a94f4"/>
<path d="M119.7,7 L126.9,6.6 L126.9,13 L119.7,13 Z" fill="#48b4ff"/>
<path d="M116.7,5 L119.7,7 L119.7,13" fill="none" stroke="#e8f6ff" stroke-width="0.9"/>
<path d="M121.2,9.2 L125.8,8.8" stroke="#fff" stroke-width="1.2"/>
<path d="M116.6,19.3 a2.6,2.6 0 0 1 -0.2,-5.2 a3,3 0 0 1 4.6,-1.4 a3,2.8 0 0 1 4.6,0.7 a2.4,2.2 0 0 1 2.6,1.7 a2.2,2.2 0 0 1 -0.6,4.2 Z" fill="url(#gCloud)" stroke="#4c5c9c" stroke-width="0.9"/>
<path d="M150.2,11.7 L150.4,19.6 A7.9,7.9 0 0 0 156.6,7.2 Z" fill="url(#gPie)" opacity="0.85"/>
<g fill="none"><circle cx="150" cy="11.7" r="7.7" stroke="#5a80d8" stroke-width="1" opacity="0.75"/><circle cx="150" cy="11.7" r="4.7" stroke="#6a8cdc" stroke-width="1" opacity="0.7"/><path d="M155.5,6.3 A7.7,7.7 0 0 1 151,19.3" stroke="#3a9a5a" stroke-width="1.1" opacity="0.8"/></g>
<path d="M150.5,12 V19.7" stroke="#18a018" stroke-width="1.4"/>
<circle cx="149.8" cy="11.4" r="1.9" fill="#2a52cc"/>
<path d="M169.4,11 L184.9,10.6 L183.6,13.6 L177.2,19.9 L175.4,19.4 Z" fill="url(#gFace)" stroke="#d09a10" stroke-width="0.8" stroke-linejoin="round"/>
<ellipse cx="177" cy="8.7" rx="8" ry="2.7" transform="rotate(-4 177 8.7)" fill="#58ace0" stroke="#1c7ca4" stroke-width="0.8"/>
<path d="M173.2,8.4 C173.4,2.6 180.4,2.6 180.5,8.2 C178,9.6 175.5,9.6 173.2,8.4 Z" fill="#78c0ec" stroke="#1c7ca4" stroke-width="0.7"/>
<circle cx="181.4" cy="15.9" r="4.1" fill="#d82410"/><circle cx="181.4" cy="15.9" r="3.3" fill="#f03418"/><rect x="180" y="14.2" width="2.9" height="2.9" fill="#fff"/>
<g stroke="#505050" stroke-width="1" fill="#505050"><path d="M263.5,6.5 V19.8 M260.7,17.5 H274.5" fill="none"/><path d="M263.5,5.6 l-1.7,2.6 h3.4 Z M275.6,17.5 l-2.6,-1.7 v3.4 Z" stroke="none"/></g>
<path d="M269.5,7 V16 M269.5,8.5 H272 M267,14.5 H269.5" stroke="#1c8c1c" stroke-width="1" fill="none" shape-rendering="crispEdges"/>
<g stroke="#505050" stroke-width="1" fill="#505050"><path d="M291.5,6.5 V19.8 M288.7,17.5 H302.5" fill="none"/><path d="M291.5,5.6 l-1.7,2.6 h3.4 Z M303.6,17.5 l-2.6,-1.7 v3.4 Z" stroke="none"/></g>
<path d="M297.5,4 V16" stroke="#1e8a1e" stroke-width="1.2"/><rect x="295.4" y="6.6" width="4.3" height="7.2" fill="url(#gCandle)" stroke="#0c8c0c" stroke-width="1.1"/>
<g stroke="#505050" stroke-width="1" fill="#505050"><path d="M319.5,6.5 V19.8 M316.7,17.5 H330.5" fill="none"/><path d="M319.5,5.6 l-1.7,2.6 h3.4 Z M331.6,17.5 l-2.6,-1.7 v3.4 Z" stroke="none"/></g>
<path d="M318,14.6 C320.5,13.8 322,9.6 324,9.4 C326,9.2 327.5,12.5 330,13.6" stroke="#2e8a2e" stroke-width="1.2" fill="none"/>
<path d="M358.6,13.3 L363.9,18.6" stroke="#9a7410" stroke-width="3.6"/><path d="M358.6,13.3 L363.6,18.3" stroke="#f6de58" stroke-width="2"/><circle cx="355" cy="9.7" r="5.3" fill="url(#gLens)" stroke="#3a7cc8" stroke-width="1.3"/><path d="M352,9.7 H358" stroke="#3e8cb4" stroke-width="1.9"/><path d="M355,6.7 V12.7" stroke="#3e8cb4" stroke-width="1.9"/>
<path d="M386.90000000000003,13.3 L392.2,18.6" stroke="#9a7410" stroke-width="3.6"/><path d="M386.90000000000003,13.3 L391.90000000000003,18.3" stroke="#f6de58" stroke-width="2"/><circle cx="383.3" cy="9.7" r="5.3" fill="url(#gLens)" stroke="#3a7cc8" stroke-width="1.3"/><path d="M380.3,9.7 H386.3" stroke="#3e8cb4" stroke-width="1.9"/>
<g shape-rendering="crispEdges"><rect x="405" y="4" width="8" height="8" fill="url(#gGreenTile)"/><rect x="406" y="7" width="6" height="4" fill="#fbfdff"/><rect x="407" y="10" width="4" height="1" fill="#52b838"/><rect x="407" y="8" width="4" height="1" fill="#b4e0a8"/><rect x="406" y="5" width="1" height="1" fill="#dde8ff"/></g>
<g shape-rendering="crispEdges"><rect x="413" y="4" width="8" height="8" fill="url(#gBlueTile)"/><rect x="414" y="7" width="6" height="4" fill="#fbfdff"/><rect x="415" y="10" width="4" height="1" fill="#3c78e8"/><rect x="415" y="8" width="4" height="1" fill="#a8c4f4"/><rect x="414" y="5" width="1" height="1" fill="#dde8ff"/></g>
<g shape-rendering="crispEdges"><rect x="405" y="12" width="8" height="8" fill="url(#gBlueTile)"/><rect x="406" y="15" width="6" height="4" fill="#fbfdff"/><rect x="407" y="18" width="4" height="1" fill="#3c78e8"/><rect x="407" y="16" width="4" height="1" fill="#a8c4f4"/><rect x="406" y="13" width="1" height="1" fill="#dde8ff"/></g>
<g shape-rendering="crispEdges"><rect x="413" y="12" width="8" height="8" fill="url(#gGreenTile)"/><rect x="414" y="15" width="6" height="4" fill="#fbfdff"/><rect x="415" y="18" width="4" height="1" fill="#52b838"/><rect x="415" y="16" width="4" height="1" fill="#b4e0a8"/><rect x="414" y="13" width="1" height="1" fill="#dde8ff"/></g>
<g stroke="#505050" stroke-width="1" fill="#505050"><path d="M443.5,6.5 V19.8 M440.7,17.5 H454.5" fill="none"/><path d="M443.5,5.6 l-1.7,2.6 h3.4 Z M455.6,17.5 l-2.6,-1.7 v3.4 Z" stroke="none"/></g>
<path d="M448.3,8.2 L452.2,11.5 L448.3,14.8 Z" fill="#7ee07e" stroke="#1e8a1e" stroke-width="0.9"/>
<g stroke="#505050" stroke-width="1" fill="#505050"><path d="M471.5,6.5 V19.8 M468.7,17.5 H482.5" fill="none"/><path d="M471.5,5.6 l-1.7,2.6 h3.4 Z M483.6,17.5 l-2.6,-1.7 v3.4 Z" stroke="none"/></g>
<path d="M477.6,6 V16" stroke="#1a6aa0" stroke-width="1.2"/><path d="M478.6,11.4 L481.5,9.2 V10.7 H483.2 V12.1 H481.5 V13.6 Z" fill="#d84a10"/>
<path d="M502.3,4.3 h8.0 l3.5,3.5 v9.9 h-11.5 Z" fill="#fdfdfd" stroke="#6e6e6e" stroke-width="1" stroke-linejoin="round"/><path d="M510.29999999999995,4.3 v3.5 h3.5" fill="#e8e8e8" stroke="#6e6e6e" stroke-width="0.7"/>
<path d="M507,7 c-1.5,0 -1.5,1 -1.5,2.2 c0,1 -0.8,1.4 -1.2,1.4 c0.4,0 1.2,0.4 1.2,1.4 c0,1.2 0,2.2 1.5,2.2" stroke="#6a6040" stroke-width="0.8" fill="none"/>
<path d="M510.1666666666667,10.2 h3.8666666666666667 v3.8666666666666667 h3.8666666666666667 v3.8666666666666667 h-3.8666666666666667 v3.8666666666666667 h-3.8666666666666667 v-3.8666666666666667 h-3.8666666666666667 v-3.8666666666666667 h3.8666666666666667 Z" fill="url(#gPlus)" stroke="#0a8c0a" stroke-width="1.1" stroke-linejoin="round"/>
<path d="M523.8,10.8 h5.8 l-2.9,3.4 Z" fill="#000"/>
<path d="M562.7,10.8 h5.8 l-2.9,3.4 Z" fill="#000"/>
<path d="M601.6,10.8 h5.8 l-2.9,3.4 Z" fill="#000"/>
<path d="M907.7,11 h5.4 l-2.7,3.4 Z" fill="#000"/>
<circle cx="548.1" cy="12" r="7.6" fill="url(#gClock)"/><circle cx="548.1" cy="12" r="5.3" fill="#f4f8fc"/>
<path d="M548.1,8.2 V12.2 H551" stroke="#303030" stroke-width="1.1" fill="none"/>
<g fill="#7a8aa0"><circle cx="548.1" cy="7.8" r="0.45"/><circle cx="548.1" cy="16.2" r="0.45"/><circle cx="543.9" cy="12" r="0.45"/><circle cx="552.3" cy="12" r="0.45"/></g>
<rect x="579.3" y="5.5" width="15.4" height="13" fill="#fff" stroke="#3a78c8" stroke-width="1"/><rect x="579.3" y="5.5" width="15.4" height="1.6" fill="#3a78c8"/>
<path d="M579.5,13 H594.5" stroke="#3a78c8" stroke-width="0.9"/>
<path d="M581.2,11 L583.5,10.4 L585,9.4 L587.5,9.8 L589.5,9 L592.8,9" stroke="#9a2a10" stroke-width="1.2" fill="none"/>
<path d="M581.2,16.2 L583.5,15.6 L585,16.4 L587.5,14.6 L589.5,15.2 L591,14.4 L592.8,16.2" stroke="#1e8a1e" stroke-width="1.1" fill="none"/>
<path d="M631,4.9 L631,16 L633.6,13.6 L636,19 L637.8,18.2 L635.4,12.9 L639.2,12.7 Z" fill="#505050"/>
<g shape-rendering="crispEdges" fill="#505050"><rect x="663" y="5" width="1" height="6"/><rect x="663" y="14" width="1" height="6"/><rect x="656" y="12" width="6" height="1"/><rect x="665" y="12" width="6" height="1"/><rect x="663" y="12" width="1" height="1" fill="#808080"/></g>
<g shape-rendering="crispEdges" fill="#505050"><rect x="697" y="6" width="1" height="13"/><rect x="720" y="12" width="12" height="1"/></g>
<path d="M747.8,19 L760.2,7" stroke="#505050" stroke-width="1.1"/>
<g stroke="#484848" fill="none"><path d="M773.5,13.5 L781.8,6 M778.8,18.8 L788.3,10.3" stroke-width="1"/><path d="M775.8,18.3 L776.8,11.6 L779.5,15 L780.6,9.6 L782.6,13.5 L783.8,8.3 L785.6,4.3 L786.6,10" stroke-width="1.3" stroke-linejoin="round"/></g>
<text x="784.8" y="20.8" font-size="6.8" font-weight="bold" fill="#404040">E</text>
<g stroke="#606060" stroke-width="1" stroke-dasharray="1 1" shape-rendering="crispEdges"><path d="M803,5.5 H816 M803,8.5 H816 M803,12.5 H816 M803,16.5 H811"/></g>
<text x="812.7" y="20.8" font-size="6.6" font-weight="bold" fill="#404040">F</text>
<text x="837.8" y="16.9" font-size="12.2" fill="#505050" stroke="#505050" stroke-width="0.2" text-anchor="middle">A</text>
<rect x="860.5" y="6.5" width="11" height="12" fill="none" stroke="#606060" stroke-width="1" stroke-dasharray="1 1" shape-rendering="crispEdges"/>
<rect x="860" y="5" width="2" height="2" fill="#505050"/>
<text x="866" y="16.8" font-size="11.5" fill="#505050" stroke="#505050" stroke-width="0.25" text-anchor="middle">T</text>
<path d="M890.6,6.2 L893.8,9.4 L890.6,12 L887.4,9.4 Z M897.6,12.7 L900.9,15.6 L897.6,18.6 L894.3,15.6 Z" fill="#505050"/>
<path d="M889.5,12.8 L891.6,15 L895.8,10.2" stroke="#505050" stroke-width="1.4" fill="none"/>
<text transform="translate(941.3,16.3) scale(0.87,1)" font-size="10.5" fill="#383838" text-anchor="middle">M1</text>
<text transform="translate(969.3,16.3) scale(0.87,1)" font-size="10.5" fill="#383838" text-anchor="middle">M5</text>
<text transform="translate(997.3,16.3) scale(0.87,1)" font-size="10.5" fill="#383838" text-anchor="middle">M15</text>
<text transform="translate(1025.3,16.3) scale(0.87,1)" font-size="10.5" fill="#383838" text-anchor="middle">M30</text>
<text transform="translate(1053.3,16.3) scale(0.87,1)" font-size="10.5" fill="#383838" text-anchor="middle">H1</text>
<text transform="translate(1081.3,16.3) scale(0.87,1)" font-size="10.5" fill="#383838" text-anchor="middle">H4</text>
<text transform="translate(1109.3,16.3) scale(0.87,1)" font-size="10.5" fill="#383838" text-anchor="middle">D1</text>
<text transform="translate(1137.3,16.3) scale(0.87,1)" font-size="10.5" fill="#383838" text-anchor="middle">W1</text>
<text transform="translate(1165.3,16.3) scale(0.87,1)" font-size="10.5" fill="#383838" text-anchor="middle">MN</text>
<path d="M1647.3,12.5 L1642.8,17" stroke="#2a5ad0" stroke-width="2.2" stroke-linecap="round"/><circle cx="1650.5" cy="9.3" r="4" fill="#f8f8ff" stroke="#2a5ad0" stroke-width="1.3"/>
<path d="M1667.3,13.5 a5.6,4.4 0 0 1 11.2,0 a5.6,4.4 0 0 1 -5.6,4.4 l-2.6,2.6 l0.2,-2.9 a5.2,4.4 0 0 1 -3.2,-4.1 Z" fill="#e4e6ee" stroke="#a8a8a8" stroke-width="0.8"/>
<circle cx="1681.5" cy="9.5" r="8.1" fill="url(#gBadge)"/>
<text x="1681.3" y="14.2" font-size="12.6" fill="#fff" text-anchor="middle">1</text>
</svg>
</body></html>
